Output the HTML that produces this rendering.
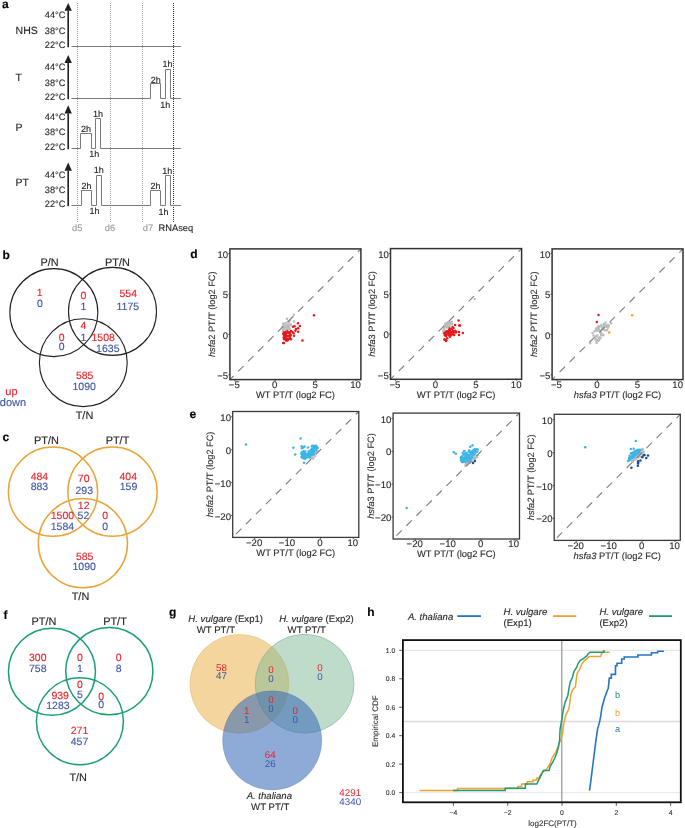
<!DOCTYPE html>
<html><head><meta charset="utf-8"><style>
html,body{margin:0;padding:0;background:#fff;}
body{width:685px;height:828px;overflow:hidden;}
svg{display:block;font-family:"Liberation Sans",sans-serif;will-change:transform;text-rendering:geometricPrecision;}
</style></head><body>
<svg width="685" height="828" viewBox="0 0 685 828">
<text x="2" y="7.6" font-size="12" fill="#000" stroke="#000" stroke-width="0.12" text-anchor="start" font-weight="bold">a</text>
<line x1="77.5" y1="3" x2="77.5" y2="222" stroke="#a3a3a3" stroke-width="1" stroke-dasharray="1 1"/>
<line x1="110.5" y1="3" x2="110.5" y2="222" stroke="#a3a3a3" stroke-width="1" stroke-dasharray="1 1"/>
<line x1="142.5" y1="3" x2="142.5" y2="222" stroke="#a3a3a3" stroke-width="1" stroke-dasharray="1 1"/>
<line x1="173.5" y1="3" x2="173.5" y2="222" stroke="#333" stroke-width="1" stroke-dasharray="1 1"/>
<text x="15.6" y="33.7" font-size="10.5" fill="#231f20" stroke="#231f20" stroke-width="0.12" text-anchor="start">NHS</text>
<text x="65.4" y="18.2" font-size="9.2" fill="#231f20" stroke="#231f20" stroke-width="0.12" text-anchor="end">44°C</text>
<text x="65.4" y="33.7" font-size="9.2" fill="#231f20" stroke="#231f20" stroke-width="0.12" text-anchor="end">38°C</text>
<text x="65.4" y="47.5" font-size="9.2" fill="#231f20" stroke="#231f20" stroke-width="0.12" text-anchor="end">22°C</text>
<line x1="68.2" y1="10.4" x2="68.2" y2="47.3" stroke="#231f20" stroke-width="1.6"/>
<polygon points="68.2,2.9 64.5,10.700000000000001 71.9,10.700000000000001" fill="#231f20"/>
<text x="15.6" y="80.5" font-size="10.5" fill="#231f20" stroke="#231f20" stroke-width="0.12" text-anchor="start">T</text>
<text x="65.4" y="69.9" font-size="9.2" fill="#231f20" stroke="#231f20" stroke-width="0.12" text-anchor="end">44°C</text>
<text x="65.4" y="85.8" font-size="9.2" fill="#231f20" stroke="#231f20" stroke-width="0.12" text-anchor="end">38°C</text>
<text x="65.4" y="99.7" font-size="9.2" fill="#231f20" stroke="#231f20" stroke-width="0.12" text-anchor="end">22°C</text>
<line x1="68.2" y1="62.8" x2="68.2" y2="99.3" stroke="#231f20" stroke-width="1.6"/>
<polygon points="68.2,55.1 64.5,63.099999999999994 71.9,63.099999999999994" fill="#231f20"/>
<text x="15.6" y="131.2" font-size="10.5" fill="#231f20" stroke="#231f20" stroke-width="0.12" text-anchor="start">P</text>
<text x="65.4" y="120.4" font-size="9.2" fill="#231f20" stroke="#231f20" stroke-width="0.12" text-anchor="end">44°C</text>
<text x="65.4" y="135.3" font-size="9.2" fill="#231f20" stroke="#231f20" stroke-width="0.12" text-anchor="end">38°C</text>
<text x="65.4" y="149.5" font-size="9.2" fill="#231f20" stroke="#231f20" stroke-width="0.12" text-anchor="end">22°C</text>
<line x1="68.2" y1="113.3" x2="68.2" y2="149.3" stroke="#231f20" stroke-width="1.6"/>
<polygon points="68.2,105.3 64.5,113.6 71.9,113.6" fill="#231f20"/>
<text x="15.6" y="186.0" font-size="10.5" fill="#231f20" stroke="#231f20" stroke-width="0.12" text-anchor="start">PT</text>
<text x="65.4" y="177.5" font-size="9.2" fill="#231f20" stroke="#231f20" stroke-width="0.12" text-anchor="end">44°C</text>
<text x="65.4" y="192.6" font-size="9.2" fill="#231f20" stroke="#231f20" stroke-width="0.12" text-anchor="end">38°C</text>
<text x="65.4" y="207.3" font-size="9.2" fill="#231f20" stroke="#231f20" stroke-width="0.12" text-anchor="end">22°C</text>
<line x1="68.2" y1="170.5" x2="68.2" y2="206.3" stroke="#231f20" stroke-width="1.6"/>
<polygon points="68.2,162.4 64.5,170.8 71.9,170.8" fill="#231f20"/>
<line x1="71.5" y1="46.5" x2="181" y2="46.5" stroke="#7a7a7a" stroke-width="1"/>
<polyline points="71.5,98.5 150.5,98.5 150.5,83.5 160.5,83.5 160.5,98.5 165.5,98.5 165.5,69.5 170.5,69.5 170.5,98.5 181,98.5" fill="none" stroke="#7a7a7a" stroke-width="1"/>
<polyline points="71.5,148.5 80.5,148.5 80.5,133.5 91.5,133.5 91.5,148.5 95.5,148.5 95.5,118.5 100.5,118.5 100.5,148.5 181,148.5" fill="none" stroke="#7a7a7a" stroke-width="1"/>
<polyline points="71.5,205.5 81.5,205.5 81.5,190.5 91.5,190.5 91.5,205.5 96.5,205.5 96.5,175.5 101.5,175.5 101.5,205.5 150.5,205.5 150.5,190.5 160.5,190.5 160.5,205.5 165.5,205.5 165.5,175.5 170.5,175.5 170.5,205.5 181,205.5" fill="none" stroke="#7a7a7a" stroke-width="1"/>
<text x="155.7" y="82.7" font-size="9.0" fill="#231f20" stroke="#231f20" stroke-width="0.12" text-anchor="middle">2h</text>
<text x="167.5" y="67.0" font-size="9.0" fill="#231f20" stroke="#231f20" stroke-width="0.12" text-anchor="middle">1h</text>
<text x="165.2" y="107.7" font-size="9.0" fill="#231f20" stroke="#231f20" stroke-width="0.12" text-anchor="middle">1h</text>
<text x="86.0" y="131.5" font-size="9.0" fill="#231f20" stroke="#231f20" stroke-width="0.12" text-anchor="middle">2h</text>
<text x="98.0" y="116.5" font-size="9.0" fill="#231f20" stroke="#231f20" stroke-width="0.12" text-anchor="middle">1h</text>
<text x="94.3" y="157.2" font-size="9.0" fill="#231f20" stroke="#231f20" stroke-width="0.12" text-anchor="middle">1h</text>
<text x="86.4" y="188.8" font-size="9.0" fill="#231f20" stroke="#231f20" stroke-width="0.12" text-anchor="middle">2h</text>
<text x="98.8" y="173.3" font-size="9.0" fill="#231f20" stroke="#231f20" stroke-width="0.12" text-anchor="middle">1h</text>
<text x="94.5" y="213.8" font-size="9.0" fill="#231f20" stroke="#231f20" stroke-width="0.12" text-anchor="middle">1h</text>
<text x="155.5" y="188.7" font-size="9.0" fill="#231f20" stroke="#231f20" stroke-width="0.12" text-anchor="middle">2h</text>
<text x="167.3" y="173.8" font-size="9.0" fill="#231f20" stroke="#231f20" stroke-width="0.12" text-anchor="middle">1h</text>
<text x="163.5" y="214.7" font-size="9.0" fill="#231f20" stroke="#231f20" stroke-width="0.12" text-anchor="middle">1h</text>
<text x="77.2" y="230.8" font-size="9.3" fill="#9a9a9a" stroke="#9a9a9a" stroke-width="0.12" text-anchor="middle">d5</text>
<text x="110" y="230.8" font-size="9.3" fill="#9a9a9a" stroke="#9a9a9a" stroke-width="0.12" text-anchor="middle">d6</text>
<text x="147.9" y="230.8" font-size="9.3" fill="#9a9a9a" stroke="#9a9a9a" stroke-width="0.12" text-anchor="middle">d7</text>
<text x="175.9" y="230.8" font-size="9.3" fill="#231f20" stroke="#231f20" stroke-width="0.12" text-anchor="middle">RNAseq</text>
<circle cx="53.85" cy="312.6" r="44" fill="none" stroke="#231f20" stroke-width="1.1"/>
<circle cx="112.5" cy="311.4" r="44" fill="none" stroke="#231f20" stroke-width="1.1"/>
<circle cx="83.3" cy="362.7" r="43.9" fill="none" stroke="#231f20" stroke-width="1.1"/>
<text x="2.4" y="259.2" font-size="12" fill="#000" stroke="#000" stroke-width="0.12" text-anchor="start" font-weight="bold">b</text>
<text x="49.5" y="266.2" font-size="10.9" fill="#231f20" stroke="#231f20" stroke-width="0.12" text-anchor="middle">P/N</text>
<text x="117.5" y="266.2" font-size="10.9" fill="#231f20" stroke="#231f20" stroke-width="0.12" text-anchor="middle">PT/N</text>
<text x="84.5" y="418.6" font-size="10.9" fill="#231f20" stroke="#231f20" stroke-width="0.12" text-anchor="middle">T/N</text>
<text x="39.6" y="296.3" font-size="10.5" fill="#e8232b" stroke="#e8232b" stroke-width="0.12" text-anchor="middle">1</text>
<text x="40" y="307.4" font-size="10.5" fill="#3c55a5" stroke="#3c55a5" stroke-width="0.12" text-anchor="middle">0</text>
<text x="83.5" y="298.8" font-size="10.5" fill="#e8232b" stroke="#e8232b" stroke-width="0.12" text-anchor="middle">0</text>
<text x="83.5" y="309.5" font-size="10.5" fill="#3c55a5" stroke="#3c55a5" stroke-width="0.12" text-anchor="middle">1</text>
<text x="128.3" y="296.6" font-size="10.5" fill="#e8232b" stroke="#e8232b" stroke-width="0.12" text-anchor="middle">554</text>
<text x="127.8" y="309.7" font-size="10.5" fill="#3c55a5" stroke="#3c55a5" stroke-width="0.12" text-anchor="middle">1175</text>
<text x="83.5" y="329.2" font-size="10.5" fill="#e8232b" stroke="#e8232b" stroke-width="0.12" text-anchor="middle">4</text>
<text x="83.5" y="340.5" font-size="10.5" fill="#3c55a5" stroke="#3c55a5" stroke-width="0.12" text-anchor="middle">1</text>
<text x="61.7" y="340.5" font-size="10.5" fill="#e8232b" stroke="#e8232b" stroke-width="0.12" text-anchor="middle">0</text>
<text x="61.7" y="350.2" font-size="10.5" fill="#3c55a5" stroke="#3c55a5" stroke-width="0.12" text-anchor="middle">0</text>
<text x="103.2" y="341" font-size="10.5" fill="#e8232b" stroke="#e8232b" stroke-width="0.12" text-anchor="middle">1508</text>
<text x="107.8" y="351.5" font-size="10.5" fill="#3c55a5" stroke="#3c55a5" stroke-width="0.12" text-anchor="middle">1635</text>
<text x="84.7" y="379.1" font-size="10.5" fill="#e8232b" stroke="#e8232b" stroke-width="0.12" text-anchor="middle">585</text>
<text x="84.2" y="389.6" font-size="10.5" fill="#3c55a5" stroke="#3c55a5" stroke-width="0.12" text-anchor="middle">1090</text>
<text x="11.4" y="394.6" font-size="11" fill="#e8232b" stroke="#e8232b" stroke-width="0.12" text-anchor="middle">up</text>
<text x="12.9" y="405.8" font-size="11" fill="#3c55a5" stroke="#3c55a5" stroke-width="0.12" text-anchor="middle">down</text>
<circle cx="53" cy="491.7" r="44.6" fill="none" stroke="#e9a53a" stroke-width="1.5"/>
<circle cx="112.5" cy="491.7" r="44.6" fill="none" stroke="#e9a53a" stroke-width="1.5"/>
<circle cx="82.9" cy="543.2" r="44.6" fill="none" stroke="#e9a53a" stroke-width="1.5"/>
<text x="2.6" y="441" font-size="12" fill="#000" stroke="#000" stroke-width="0.12" text-anchor="start" font-weight="bold">c</text>
<text x="46.5" y="444" font-size="10.9" fill="#231f20" stroke="#231f20" stroke-width="0.12" text-anchor="middle">PT/N</text>
<text x="117.5" y="444" font-size="10.9" fill="#231f20" stroke="#231f20" stroke-width="0.12" text-anchor="middle">PT/T</text>
<text x="80.5" y="599.5" font-size="10.9" fill="#231f20" stroke="#231f20" stroke-width="0.12" text-anchor="middle">T/N</text>
<text x="39.4" y="479.8" font-size="10.5" fill="#e8232b" stroke="#e8232b" stroke-width="0.12" text-anchor="middle">484</text>
<text x="39.4" y="490.3" font-size="10.5" fill="#3c55a5" stroke="#3c55a5" stroke-width="0.12" text-anchor="middle">883</text>
<text x="83.7" y="482" font-size="10.5" fill="#e8232b" stroke="#e8232b" stroke-width="0.12" text-anchor="middle">70</text>
<text x="84.3" y="493.6" font-size="10.5" fill="#3c55a5" stroke="#3c55a5" stroke-width="0.12" text-anchor="middle">293</text>
<text x="128.3" y="479.9" font-size="10.5" fill="#e8232b" stroke="#e8232b" stroke-width="0.12" text-anchor="middle">404</text>
<text x="128.5" y="490.4" font-size="10.5" fill="#3c55a5" stroke="#3c55a5" stroke-width="0.12" text-anchor="middle">159</text>
<text x="83.7" y="508.8" font-size="10.5" fill="#e8232b" stroke="#e8232b" stroke-width="0.12" text-anchor="middle">12</text>
<text x="62.4" y="518.8" font-size="10.5" fill="#e8232b" stroke="#e8232b" stroke-width="0.12" text-anchor="middle">1500</text>
<text x="83.4" y="518.8" font-size="10.5" fill="#3c55a5" stroke="#3c55a5" stroke-width="0.12" text-anchor="middle">52</text>
<text x="105.1" y="518.8" font-size="10.5" fill="#e8232b" stroke="#e8232b" stroke-width="0.12" text-anchor="middle">0</text>
<text x="105.1" y="529.8" font-size="10.5" fill="#3c55a5" stroke="#3c55a5" stroke-width="0.12" text-anchor="middle">0</text>
<text x="62.4" y="529.8" font-size="10.5" fill="#3c55a5" stroke="#3c55a5" stroke-width="0.12" text-anchor="middle">1584</text>
<text x="84.7" y="559.5" font-size="10.5" fill="#e8232b" stroke="#e8232b" stroke-width="0.12" text-anchor="middle">585</text>
<text x="84.2" y="569.7" font-size="10.5" fill="#3c55a5" stroke="#3c55a5" stroke-width="0.12" text-anchor="middle">1090</text>
<circle cx="51.95" cy="671.8" r="43.5" fill="none" stroke="#1b9e76" stroke-width="1.5"/>
<circle cx="109.3" cy="671.2" r="43.6" fill="none" stroke="#1b9e76" stroke-width="1.5"/>
<circle cx="79.9" cy="721.2" r="43.5" fill="none" stroke="#1b9e76" stroke-width="1.5"/>
<text x="3.6" y="619" font-size="12" fill="#000" stroke="#000" stroke-width="0.12" text-anchor="start" font-weight="bold">f</text>
<text x="44" y="624.8" font-size="10.9" fill="#231f20" stroke="#231f20" stroke-width="0.12" text-anchor="middle">PT/N</text>
<text x="115" y="624.8" font-size="10.9" fill="#231f20" stroke="#231f20" stroke-width="0.12" text-anchor="middle">PT/T</text>
<text x="78.2" y="780.9" font-size="10.9" fill="#231f20" stroke="#231f20" stroke-width="0.12" text-anchor="middle">T/N</text>
<text x="37.8" y="660.5" font-size="10.5" fill="#e8232b" stroke="#e8232b" stroke-width="0.12" text-anchor="middle">300</text>
<text x="37.8" y="671.7" font-size="10.5" fill="#3c55a5" stroke="#3c55a5" stroke-width="0.12" text-anchor="middle">758</text>
<text x="80" y="660.5" font-size="10.5" fill="#e8232b" stroke="#e8232b" stroke-width="0.12" text-anchor="middle">0</text>
<text x="80" y="671.7" font-size="10.5" fill="#3c55a5" stroke="#3c55a5" stroke-width="0.12" text-anchor="middle">1</text>
<text x="118.6" y="660.5" font-size="10.5" fill="#e8232b" stroke="#e8232b" stroke-width="0.12" text-anchor="middle">0</text>
<text x="118.6" y="671.7" font-size="10.5" fill="#3c55a5" stroke="#3c55a5" stroke-width="0.12" text-anchor="middle">8</text>
<text x="80" y="687.5" font-size="10.5" fill="#e8232b" stroke="#e8232b" stroke-width="0.12" text-anchor="middle">0</text>
<text x="80" y="698.1" font-size="10.5" fill="#3c55a5" stroke="#3c55a5" stroke-width="0.12" text-anchor="middle">5</text>
<text x="60.2" y="699.1" font-size="10.5" fill="#e8232b" stroke="#e8232b" stroke-width="0.12" text-anchor="middle">939</text>
<text x="57.9" y="709.1" font-size="10.5" fill="#3c55a5" stroke="#3c55a5" stroke-width="0.12" text-anchor="middle">1283</text>
<text x="101.2" y="699.6" font-size="10.5" fill="#e8232b" stroke="#e8232b" stroke-width="0.12" text-anchor="middle">0</text>
<text x="101.2" y="708.3" font-size="10.5" fill="#3c55a5" stroke="#3c55a5" stroke-width="0.12" text-anchor="middle">0</text>
<text x="79.5" y="734.1" font-size="10.5" fill="#e8232b" stroke="#e8232b" stroke-width="0.12" text-anchor="middle">271</text>
<text x="79.5" y="744.6" font-size="10.5" fill="#3c55a5" stroke="#3c55a5" stroke-width="0.12" text-anchor="middle">457</text>
<text x="168.9" y="615.6" font-size="12" fill="#000" stroke="#000" stroke-width="0.12" text-anchor="start" font-weight="bold">g</text>
<circle cx="239.4" cy="683.8" r="49.4" fill="#ecab3d" fill-opacity="0.5" stroke="#e6b46a" stroke-opacity="0.6" stroke-width="0.9"/>
<circle cx="304.6" cy="683.7" r="49.4" fill="#7fb997" fill-opacity="0.5" stroke="#6fb08e" stroke-opacity="0.6" stroke-width="0.9"/>
<circle cx="272.2" cy="740.4" r="49.6" fill="#396ab7" fill-opacity="0.57" stroke="#396ab7" stroke-opacity="0.25" stroke-width="0.9"/>
<text x="225.7" y="621.6" font-size="9.6" fill="#231f20" stroke="#231f20" stroke-width="0.12" text-anchor="middle"><tspan font-style="italic">H. vulgare</tspan> (Exp1)</text>
<text x="316.5" y="621.6" font-size="9.6" fill="#231f20" stroke="#231f20" stroke-width="0.12" text-anchor="middle"><tspan font-style="italic">H. vulgare</tspan> (Exp2)</text>
<text x="215.9" y="633.4" font-size="9.6" fill="#231f20" stroke="#231f20" stroke-width="0.12" text-anchor="middle">WT PT/T</text>
<text x="306.7" y="633.4" font-size="9.6" fill="#231f20" stroke="#231f20" stroke-width="0.12" text-anchor="middle">WT PT/T</text>
<text x="269.3" y="799.2" font-size="9.6" fill="#231f20" stroke="#231f20" stroke-width="0.12" text-anchor="middle" font-style="italic">A. thaliana</text>
<text x="270.2" y="809.6" font-size="9.6" fill="#231f20" stroke="#231f20" stroke-width="0.12" text-anchor="middle">WT PT/T</text>
<text x="221.4" y="670.5" font-size="9.8" fill="#e8232b" text-anchor="middle" class="ns">58</text>
<text x="221.4" y="679.2" font-size="9.8" fill="#3c55a5" text-anchor="middle" class="ns">47</text>
<text x="271" y="673" font-size="9.8" fill="#e8232b" text-anchor="middle" class="ns">0</text>
<text x="271" y="682.1" font-size="9.8" fill="#3c55a5" text-anchor="middle" class="ns">0</text>
<text x="320" y="670.5" font-size="9.8" fill="#e8232b" text-anchor="middle" class="ns">0</text>
<text x="320" y="679.8" font-size="9.8" fill="#3c55a5" text-anchor="middle" class="ns">0</text>
<text x="271" y="703.1" font-size="9.8" fill="#e8232b" text-anchor="middle" class="ns">0</text>
<text x="271" y="711.8" font-size="9.8" fill="#3c55a5" text-anchor="middle" class="ns">0</text>
<text x="246.7" y="714" font-size="9.8" fill="#e8232b" text-anchor="middle" class="ns">1</text>
<text x="246.7" y="723" font-size="9.8" fill="#3c55a5" text-anchor="middle" class="ns">1</text>
<text x="295.3" y="714" font-size="9.8" fill="#e8232b" text-anchor="middle" class="ns">0</text>
<text x="295.3" y="723" font-size="9.8" fill="#3c55a5" text-anchor="middle" class="ns">0</text>
<text x="270.3" y="758" font-size="9.8" fill="#e8232b" text-anchor="middle" class="ns">64</text>
<text x="270.3" y="767.3" font-size="9.8" fill="#3c55a5" text-anchor="middle" class="ns">26</text>
<text x="350.2" y="795.9" font-size="9.8" fill="#e8232b" text-anchor="middle" class="ns">4291</text>
<text x="350.2" y="805.3" font-size="9.8" fill="#3c55a5" text-anchor="middle" class="ns">4340</text>
<text x="190.2" y="257.5" font-size="12" font-weight="bold" fill="#000" stroke="#000" stroke-width="0.12">d</text>
<text x="234.30" y="388.00" font-size="9.6" fill="#2b2b2b" stroke="#2b2b2b" stroke-width="0.12" text-anchor="middle">−5</text>
<line x1="234.8" y1="379.6" x2="234.8" y2="381.20000000000005" stroke="#333" stroke-width="0.8"/>
<text x="274.70" y="388.00" font-size="9.6" fill="#2b2b2b" stroke="#2b2b2b" stroke-width="0.12" text-anchor="middle">0</text>
<line x1="275.2" y1="379.6" x2="275.2" y2="381.20000000000005" stroke="#333" stroke-width="0.8"/>
<text x="315.10" y="388.00" font-size="9.6" fill="#2b2b2b" stroke="#2b2b2b" stroke-width="0.12" text-anchor="middle">5</text>
<line x1="315.6" y1="379.6" x2="315.6" y2="381.20000000000005" stroke="#333" stroke-width="0.8"/>
<text x="355.50" y="388.00" font-size="9.6" fill="#2b2b2b" stroke="#2b2b2b" stroke-width="0.12" text-anchor="middle">10</text>
<line x1="356.0" y1="379.6" x2="356.0" y2="381.20000000000005" stroke="#333" stroke-width="0.8"/>
<text x="228.20" y="257.80" font-size="9.6" fill="#2b2b2b" stroke="#2b2b2b" stroke-width="0.12" text-anchor="end">10</text>
<line x1="228.3" y1="253.7" x2="229.9" y2="253.7" stroke="#333" stroke-width="0.8"/>
<text x="228.20" y="298.20" font-size="9.6" fill="#2b2b2b" stroke="#2b2b2b" stroke-width="0.12" text-anchor="end">5</text>
<line x1="228.3" y1="294.1" x2="229.9" y2="294.1" stroke="#333" stroke-width="0.8"/>
<text x="228.20" y="338.50" font-size="9.6" fill="#2b2b2b" stroke="#2b2b2b" stroke-width="0.12" text-anchor="end">0</text>
<line x1="228.3" y1="334.4" x2="229.9" y2="334.4" stroke="#333" stroke-width="0.8"/>
<text x="228.20" y="378.90" font-size="9.6" fill="#2b2b2b" stroke="#2b2b2b" stroke-width="0.12" text-anchor="end">−5</text>
<line x1="228.3" y1="374.8" x2="229.9" y2="374.8" stroke="#333" stroke-width="0.8"/>
<text x="295.40" y="398.00" font-size="9.4" fill="#2b2b2b" stroke="#2b2b2b" stroke-width="0.12" text-anchor="middle">WT PT/T (log2 FC)</text>
<text transform="translate(215.30,314.25) rotate(-90)" font-size="9.2" fill="#2b2b2b" stroke="#2b2b2b" stroke-width="0.12" text-anchor="middle"><tspan font-style="italic">hsfa</tspan>2 PT/T (log2 FC)</text>
<text x="394.90" y="387.70" font-size="9.6" fill="#2b2b2b" stroke="#2b2b2b" stroke-width="0.12" text-anchor="middle">−5</text>
<line x1="395.4" y1="379.3" x2="395.4" y2="380.90000000000003" stroke="#333" stroke-width="0.8"/>
<text x="435.30" y="387.70" font-size="9.6" fill="#2b2b2b" stroke="#2b2b2b" stroke-width="0.12" text-anchor="middle">0</text>
<line x1="435.8" y1="379.3" x2="435.8" y2="380.90000000000003" stroke="#333" stroke-width="0.8"/>
<text x="475.80" y="387.70" font-size="9.6" fill="#2b2b2b" stroke="#2b2b2b" stroke-width="0.12" text-anchor="middle">5</text>
<line x1="476.3" y1="379.3" x2="476.3" y2="380.90000000000003" stroke="#333" stroke-width="0.8"/>
<text x="516.20" y="387.70" font-size="9.6" fill="#2b2b2b" stroke="#2b2b2b" stroke-width="0.12" text-anchor="middle">10</text>
<line x1="516.7" y1="379.3" x2="516.7" y2="380.90000000000003" stroke="#333" stroke-width="0.8"/>
<text x="388.80" y="257.50" font-size="9.6" fill="#2b2b2b" stroke="#2b2b2b" stroke-width="0.12" text-anchor="end">10</text>
<line x1="388.9" y1="253.4" x2="390.5" y2="253.4" stroke="#333" stroke-width="0.8"/>
<text x="388.80" y="297.90" font-size="9.6" fill="#2b2b2b" stroke="#2b2b2b" stroke-width="0.12" text-anchor="end">5</text>
<line x1="388.9" y1="293.8" x2="390.5" y2="293.8" stroke="#333" stroke-width="0.8"/>
<text x="388.80" y="338.20" font-size="9.6" fill="#2b2b2b" stroke="#2b2b2b" stroke-width="0.12" text-anchor="end">0</text>
<line x1="388.9" y1="334.1" x2="390.5" y2="334.1" stroke="#333" stroke-width="0.8"/>
<text x="388.80" y="378.60" font-size="9.6" fill="#2b2b2b" stroke="#2b2b2b" stroke-width="0.12" text-anchor="end">−5</text>
<line x1="388.9" y1="374.5" x2="390.5" y2="374.5" stroke="#333" stroke-width="0.8"/>
<text x="456.05" y="397.70" font-size="9.4" fill="#2b2b2b" stroke="#2b2b2b" stroke-width="0.12" text-anchor="middle">WT PT/T (log2 FC)</text>
<text transform="translate(375.40,313.95) rotate(-90)" font-size="9.2" fill="#2b2b2b" stroke="#2b2b2b" stroke-width="0.12" text-anchor="middle"><tspan font-style="italic">hsfa</tspan>3 PT/T (log2 FC)</text>
<text x="556.50" y="388.00" font-size="9.6" fill="#2b2b2b" stroke="#2b2b2b" stroke-width="0.12" text-anchor="middle">−5</text>
<line x1="557.0" y1="379.6" x2="557.0" y2="381.20000000000005" stroke="#333" stroke-width="0.8"/>
<text x="596.90" y="388.00" font-size="9.6" fill="#2b2b2b" stroke="#2b2b2b" stroke-width="0.12" text-anchor="middle">0</text>
<line x1="597.4" y1="379.6" x2="597.4" y2="381.20000000000005" stroke="#333" stroke-width="0.8"/>
<text x="637.30" y="388.00" font-size="9.6" fill="#2b2b2b" stroke="#2b2b2b" stroke-width="0.12" text-anchor="middle">5</text>
<line x1="637.8" y1="379.6" x2="637.8" y2="381.20000000000005" stroke="#333" stroke-width="0.8"/>
<text x="677.70" y="388.00" font-size="9.6" fill="#2b2b2b" stroke="#2b2b2b" stroke-width="0.12" text-anchor="middle">10</text>
<line x1="678.2" y1="379.6" x2="678.2" y2="381.20000000000005" stroke="#333" stroke-width="0.8"/>
<text x="550.40" y="257.80" font-size="9.6" fill="#2b2b2b" stroke="#2b2b2b" stroke-width="0.12" text-anchor="end">10</text>
<line x1="550.5" y1="253.7" x2="552.1" y2="253.7" stroke="#333" stroke-width="0.8"/>
<text x="550.40" y="298.20" font-size="9.6" fill="#2b2b2b" stroke="#2b2b2b" stroke-width="0.12" text-anchor="end">5</text>
<line x1="550.5" y1="294.1" x2="552.1" y2="294.1" stroke="#333" stroke-width="0.8"/>
<text x="550.40" y="338.50" font-size="9.6" fill="#2b2b2b" stroke="#2b2b2b" stroke-width="0.12" text-anchor="end">0</text>
<line x1="550.5" y1="334.4" x2="552.1" y2="334.4" stroke="#333" stroke-width="0.8"/>
<text x="550.40" y="378.90" font-size="9.6" fill="#2b2b2b" stroke="#2b2b2b" stroke-width="0.12" text-anchor="end">−5</text>
<line x1="550.5" y1="374.8" x2="552.1" y2="374.8" stroke="#333" stroke-width="0.8"/>
<text x="617.55" y="398.00" font-size="9.4" fill="#2b2b2b" stroke="#2b2b2b" stroke-width="0.12" text-anchor="middle"><tspan font-style="italic">hsfa3</tspan> PT/T (log2 FC)</text>
<text transform="translate(537.10,314.25) rotate(-90)" font-size="9.2" fill="#2b2b2b" stroke="#2b2b2b" stroke-width="0.12" text-anchor="middle"><tspan font-style="italic">hsfa2</tspan> PT/T (log2 FC)</text>
<circle cx="285.58" cy="322.96" r="1.25" fill="#bdbdbd"/>
<circle cx="288.68" cy="321.94" r="1.25" fill="#bdbdbd"/>
<circle cx="287.59" cy="325.75" r="1.25" fill="#bdbdbd"/>
<circle cx="283.05" cy="327.60" r="1.25" fill="#bdbdbd"/>
<circle cx="282.86" cy="326.64" r="1.25" fill="#bdbdbd"/>
<circle cx="286.53" cy="331.75" r="1.25" fill="#bdbdbd"/>
<circle cx="283.68" cy="323.90" r="1.25" fill="#bdbdbd"/>
<circle cx="287.98" cy="326.16" r="1.25" fill="#bdbdbd"/>
<circle cx="290.66" cy="324.76" r="1.25" fill="#bdbdbd"/>
<circle cx="285.43" cy="331.61" r="1.25" fill="#bdbdbd"/>
<circle cx="284.22" cy="328.56" r="1.25" fill="#bdbdbd"/>
<circle cx="288.57" cy="325.84" r="1.25" fill="#bdbdbd"/>
<circle cx="287.70" cy="321.82" r="1.25" fill="#bdbdbd"/>
<circle cx="283.07" cy="323.68" r="1.25" fill="#bdbdbd"/>
<circle cx="288.96" cy="326.56" r="1.25" fill="#bdbdbd"/>
<circle cx="285.48" cy="328.61" r="1.25" fill="#bdbdbd"/>
<circle cx="286.81" cy="324.90" r="1.25" fill="#bdbdbd"/>
<circle cx="284.82" cy="328.47" r="1.25" fill="#bdbdbd"/>
<circle cx="289.43" cy="324.74" r="1.25" fill="#bdbdbd"/>
<circle cx="286.47" cy="330.84" r="1.25" fill="#bdbdbd"/>
<circle cx="283.94" cy="327.36" r="1.25" fill="#bdbdbd"/>
<circle cx="282.87" cy="329.69" r="1.25" fill="#bdbdbd"/>
<circle cx="289.76" cy="328.45" r="1.25" fill="#bdbdbd"/>
<circle cx="290.82" cy="325.08" r="1.25" fill="#bdbdbd"/>
<circle cx="289.11" cy="328.73" r="1.25" fill="#bdbdbd"/>
<circle cx="288.01" cy="326.93" r="1.25" fill="#bdbdbd"/>
<circle cx="287.00" cy="329.63" r="1.25" fill="#bdbdbd"/>
<circle cx="283.08" cy="330.12" r="1.25" fill="#bdbdbd"/>
<circle cx="290.31" cy="324.70" r="1.25" fill="#bdbdbd"/>
<circle cx="286.17" cy="329.69" r="1.25" fill="#bdbdbd"/>
<circle cx="282.71" cy="327.00" r="1.25" fill="#bdbdbd"/>
<circle cx="283.06" cy="330.99" r="1.25" fill="#bdbdbd"/>
<circle cx="283.73" cy="324.22" r="1.25" fill="#bdbdbd"/>
<circle cx="286.21" cy="332.33" r="1.25" fill="#bdbdbd"/>
<circle cx="283.27" cy="326.84" r="1.25" fill="#bdbdbd"/>
<circle cx="285.15" cy="326.40" r="1.25" fill="#bdbdbd"/>
<circle cx="285.91" cy="332.49" r="1.25" fill="#bdbdbd"/>
<circle cx="284.17" cy="324.02" r="1.25" fill="#bdbdbd"/>
<circle cx="284.72" cy="327.30" r="1.25" fill="#bdbdbd"/>
<circle cx="288.10" cy="324.42" r="1.25" fill="#bdbdbd"/>
<circle cx="286.01" cy="328.36" r="1.25" fill="#bdbdbd"/>
<circle cx="287.40" cy="329.03" r="1.25" fill="#bdbdbd"/>
<circle cx="288.92" cy="321.70" r="1.25" fill="#bdbdbd"/>
<circle cx="286.23" cy="326.19" r="1.25" fill="#bdbdbd"/>
<circle cx="283.48" cy="329.25" r="1.25" fill="#bdbdbd"/>
<circle cx="294.00" cy="314.80" r="1.25" fill="#bdbdbd"/>
<circle cx="287.00" cy="318.80" r="1.25" fill="#bdbdbd"/>
<circle cx="294.00" cy="321.40" r="1.25" fill="#bdbdbd"/>
<circle cx="284.00" cy="324.00" r="1.25" fill="#bdbdbd"/>
<circle cx="290.00" cy="320.50" r="1.25" fill="#bdbdbd"/>
<circle cx="284.67" cy="332.62" r="1.25" fill="#e41a1c"/>
<circle cx="283.81" cy="334.64" r="1.25" fill="#e41a1c"/>
<circle cx="287.91" cy="332.49" r="1.25" fill="#e41a1c"/>
<circle cx="285.02" cy="334.47" r="1.25" fill="#e41a1c"/>
<circle cx="285.91" cy="332.23" r="1.25" fill="#e41a1c"/>
<circle cx="286.73" cy="335.84" r="1.25" fill="#e41a1c"/>
<circle cx="285.74" cy="333.65" r="1.25" fill="#e41a1c"/>
<circle cx="289.63" cy="332.61" r="1.25" fill="#e41a1c"/>
<circle cx="287.23" cy="332.47" r="1.25" fill="#e41a1c"/>
<circle cx="287.35" cy="331.27" r="1.25" fill="#e41a1c"/>
<circle cx="289.91" cy="337.96" r="1.25" fill="#e41a1c"/>
<circle cx="285.09" cy="334.67" r="1.25" fill="#e41a1c"/>
<circle cx="284.34" cy="338.72" r="1.25" fill="#e41a1c"/>
<circle cx="287.26" cy="338.79" r="1.25" fill="#e41a1c"/>
<circle cx="285.64" cy="333.23" r="1.25" fill="#e41a1c"/>
<circle cx="289.55" cy="338.40" r="1.25" fill="#e41a1c"/>
<circle cx="284.81" cy="336.18" r="1.25" fill="#e41a1c"/>
<circle cx="283.22" cy="333.79" r="1.25" fill="#e41a1c"/>
<circle cx="285.07" cy="337.93" r="1.25" fill="#e41a1c"/>
<circle cx="290.65" cy="335.47" r="1.25" fill="#e41a1c"/>
<circle cx="290.64" cy="334.65" r="1.25" fill="#e41a1c"/>
<circle cx="284.76" cy="333.27" r="1.25" fill="#e41a1c"/>
<circle cx="284.57" cy="333.04" r="1.25" fill="#e41a1c"/>
<circle cx="287.99" cy="340.00" r="1.25" fill="#e41a1c"/>
<circle cx="289.72" cy="335.79" r="1.25" fill="#e41a1c"/>
<circle cx="288.22" cy="339.00" r="1.25" fill="#e41a1c"/>
<circle cx="283.68" cy="337.61" r="1.25" fill="#e41a1c"/>
<circle cx="289.00" cy="335.78" r="1.25" fill="#e41a1c"/>
<circle cx="284.43" cy="338.89" r="1.25" fill="#e41a1c"/>
<circle cx="285.66" cy="339.01" r="1.25" fill="#e41a1c"/>
<circle cx="286.21" cy="340.47" r="1.25" fill="#e41a1c"/>
<circle cx="288.80" cy="332.70" r="1.25" fill="#e41a1c"/>
<circle cx="284.02" cy="332.51" r="1.25" fill="#e41a1c"/>
<circle cx="284.17" cy="339.27" r="1.25" fill="#e41a1c"/>
<circle cx="285.80" cy="336.49" r="1.25" fill="#e41a1c"/>
<circle cx="287.21" cy="340.34" r="1.25" fill="#e41a1c"/>
<circle cx="286.47" cy="339.72" r="1.25" fill="#e41a1c"/>
<circle cx="289.61" cy="333.11" r="1.25" fill="#e41a1c"/>
<circle cx="285.01" cy="333.93" r="1.25" fill="#e41a1c"/>
<circle cx="284.92" cy="336.86" r="1.25" fill="#e41a1c"/>
<circle cx="285.07" cy="335.19" r="1.25" fill="#e41a1c"/>
<circle cx="285.83" cy="335.58" r="1.25" fill="#e41a1c"/>
<circle cx="287.67" cy="340.04" r="1.25" fill="#e41a1c"/>
<circle cx="286.37" cy="340.18" r="1.25" fill="#e41a1c"/>
<circle cx="287.01" cy="336.32" r="1.25" fill="#e41a1c"/>
<circle cx="314.00" cy="315.30" r="1.25" fill="#e41a1c"/>
<circle cx="298.00" cy="323.30" r="1.25" fill="#e41a1c"/>
<circle cx="299.80" cy="326.00" r="1.25" fill="#e41a1c"/>
<circle cx="294.50" cy="326.20" r="1.25" fill="#e41a1c"/>
<circle cx="293.00" cy="326.80" r="1.25" fill="#e41a1c"/>
<circle cx="298.20" cy="328.20" r="1.25" fill="#e41a1c"/>
<circle cx="295.40" cy="330.80" r="1.25" fill="#e41a1c"/>
<circle cx="298.20" cy="331.70" r="1.25" fill="#e41a1c"/>
<circle cx="291.00" cy="331.00" r="1.25" fill="#e41a1c"/>
<circle cx="293.60" cy="333.20" r="1.25" fill="#e41a1c"/>
<circle cx="294.00" cy="335.70" r="1.25" fill="#e41a1c"/>
<circle cx="291.00" cy="339.30" r="1.25" fill="#e41a1c"/>
<circle cx="302.40" cy="340.50" r="1.25" fill="#e41a1c"/>
<circle cx="284.00" cy="343.10" r="1.25" fill="#e41a1c"/>
<circle cx="283.10" cy="343.10" r="1.25" fill="#e41a1c"/>
<circle cx="292.50" cy="332.00" r="1.25" fill="#e41a1c"/>
<circle cx="296.00" cy="329.00" r="1.25" fill="#e41a1c"/>
<circle cx="289.50" cy="336.50" r="1.25" fill="#e41a1c"/>
<circle cx="447.29" cy="322.86" r="1.25" fill="#bdbdbd"/>
<circle cx="444.80" cy="326.61" r="1.25" fill="#bdbdbd"/>
<circle cx="446.23" cy="327.19" r="1.25" fill="#bdbdbd"/>
<circle cx="444.19" cy="327.73" r="1.25" fill="#bdbdbd"/>
<circle cx="445.51" cy="324.07" r="1.25" fill="#bdbdbd"/>
<circle cx="448.90" cy="327.02" r="1.25" fill="#bdbdbd"/>
<circle cx="447.41" cy="327.38" r="1.25" fill="#bdbdbd"/>
<circle cx="451.96" cy="323.85" r="1.25" fill="#bdbdbd"/>
<circle cx="451.01" cy="322.27" r="1.25" fill="#bdbdbd"/>
<circle cx="444.33" cy="326.20" r="1.25" fill="#bdbdbd"/>
<circle cx="443.88" cy="329.14" r="1.25" fill="#bdbdbd"/>
<circle cx="444.64" cy="329.74" r="1.25" fill="#bdbdbd"/>
<circle cx="449.34" cy="322.34" r="1.25" fill="#bdbdbd"/>
<circle cx="446.90" cy="326.79" r="1.25" fill="#bdbdbd"/>
<circle cx="444.70" cy="326.07" r="1.25" fill="#bdbdbd"/>
<circle cx="448.00" cy="324.87" r="1.25" fill="#bdbdbd"/>
<circle cx="445.02" cy="324.61" r="1.25" fill="#bdbdbd"/>
<circle cx="448.35" cy="326.18" r="1.25" fill="#bdbdbd"/>
<circle cx="449.00" cy="327.11" r="1.25" fill="#bdbdbd"/>
<circle cx="443.80" cy="333.21" r="1.25" fill="#bdbdbd"/>
<circle cx="443.57" cy="330.55" r="1.25" fill="#bdbdbd"/>
<circle cx="450.82" cy="323.84" r="1.25" fill="#bdbdbd"/>
<circle cx="444.59" cy="332.36" r="1.25" fill="#bdbdbd"/>
<circle cx="449.60" cy="325.99" r="1.25" fill="#bdbdbd"/>
<circle cx="443.87" cy="332.60" r="1.25" fill="#bdbdbd"/>
<circle cx="443.98" cy="331.55" r="1.25" fill="#bdbdbd"/>
<circle cx="443.82" cy="331.63" r="1.25" fill="#bdbdbd"/>
<circle cx="447.42" cy="324.88" r="1.25" fill="#bdbdbd"/>
<circle cx="448.10" cy="323.58" r="1.25" fill="#bdbdbd"/>
<circle cx="446.10" cy="324.43" r="1.25" fill="#bdbdbd"/>
<circle cx="450.26" cy="324.24" r="1.25" fill="#bdbdbd"/>
<circle cx="447.85" cy="322.79" r="1.25" fill="#bdbdbd"/>
<circle cx="444.96" cy="326.62" r="1.25" fill="#bdbdbd"/>
<circle cx="451.89" cy="321.87" r="1.25" fill="#bdbdbd"/>
<circle cx="446.86" cy="327.04" r="1.25" fill="#bdbdbd"/>
<circle cx="446.96" cy="324.98" r="1.25" fill="#bdbdbd"/>
<circle cx="443.86" cy="330.06" r="1.25" fill="#bdbdbd"/>
<circle cx="443.99" cy="331.35" r="1.25" fill="#bdbdbd"/>
<circle cx="445.82" cy="323.62" r="1.25" fill="#bdbdbd"/>
<circle cx="445.93" cy="326.43" r="1.25" fill="#bdbdbd"/>
<circle cx="474.70" cy="299.00" r="1.25" fill="#bdbdbd"/>
<circle cx="445.31" cy="334.21" r="1.25" fill="#e41a1c"/>
<circle cx="447.35" cy="332.99" r="1.25" fill="#e41a1c"/>
<circle cx="449.56" cy="334.99" r="1.25" fill="#e41a1c"/>
<circle cx="445.89" cy="335.01" r="1.25" fill="#e41a1c"/>
<circle cx="444.40" cy="333.57" r="1.25" fill="#e41a1c"/>
<circle cx="447.28" cy="331.29" r="1.25" fill="#e41a1c"/>
<circle cx="451.05" cy="335.35" r="1.25" fill="#e41a1c"/>
<circle cx="448.42" cy="332.57" r="1.25" fill="#e41a1c"/>
<circle cx="445.07" cy="335.28" r="1.25" fill="#e41a1c"/>
<circle cx="444.98" cy="333.04" r="1.25" fill="#e41a1c"/>
<circle cx="444.61" cy="339.55" r="1.25" fill="#e41a1c"/>
<circle cx="449.94" cy="335.43" r="1.25" fill="#e41a1c"/>
<circle cx="453.07" cy="331.56" r="1.25" fill="#e41a1c"/>
<circle cx="452.97" cy="330.91" r="1.25" fill="#e41a1c"/>
<circle cx="449.82" cy="333.34" r="1.25" fill="#e41a1c"/>
<circle cx="451.81" cy="329.16" r="1.25" fill="#e41a1c"/>
<circle cx="453.16" cy="332.27" r="1.25" fill="#e41a1c"/>
<circle cx="452.25" cy="332.08" r="1.25" fill="#e41a1c"/>
<circle cx="450.12" cy="334.47" r="1.25" fill="#e41a1c"/>
<circle cx="449.45" cy="329.72" r="1.25" fill="#e41a1c"/>
<circle cx="455.18" cy="330.83" r="1.25" fill="#e41a1c"/>
<circle cx="449.22" cy="331.78" r="1.25" fill="#e41a1c"/>
<circle cx="446.01" cy="341.05" r="1.25" fill="#e41a1c"/>
<circle cx="446.02" cy="336.07" r="1.25" fill="#e41a1c"/>
<circle cx="445.10" cy="335.28" r="1.25" fill="#e41a1c"/>
<circle cx="454.19" cy="335.07" r="1.25" fill="#e41a1c"/>
<circle cx="446.30" cy="340.40" r="1.25" fill="#e41a1c"/>
<circle cx="449.71" cy="328.44" r="1.25" fill="#e41a1c"/>
<circle cx="449.24" cy="332.24" r="1.25" fill="#e41a1c"/>
<circle cx="445.09" cy="332.81" r="1.25" fill="#e41a1c"/>
<circle cx="455.28" cy="332.07" r="1.25" fill="#e41a1c"/>
<circle cx="448.19" cy="333.48" r="1.25" fill="#e41a1c"/>
<circle cx="448.03" cy="333.96" r="1.25" fill="#e41a1c"/>
<circle cx="444.56" cy="339.54" r="1.25" fill="#e41a1c"/>
<circle cx="446.54" cy="331.74" r="1.25" fill="#e41a1c"/>
<circle cx="450.05" cy="330.70" r="1.25" fill="#e41a1c"/>
<circle cx="453.01" cy="334.28" r="1.25" fill="#e41a1c"/>
<circle cx="449.53" cy="332.81" r="1.25" fill="#e41a1c"/>
<circle cx="447.19" cy="338.22" r="1.25" fill="#e41a1c"/>
<circle cx="456.28" cy="331.66" r="1.25" fill="#e41a1c"/>
<circle cx="451.99" cy="332.22" r="1.25" fill="#e41a1c"/>
<circle cx="450.67" cy="333.50" r="1.25" fill="#e41a1c"/>
<circle cx="445.99" cy="340.51" r="1.25" fill="#e41a1c"/>
<circle cx="449.86" cy="331.11" r="1.25" fill="#e41a1c"/>
<circle cx="449.23" cy="330.01" r="1.25" fill="#e41a1c"/>
<circle cx="446.40" cy="331.64" r="1.25" fill="#e41a1c"/>
<circle cx="453.25" cy="333.76" r="1.25" fill="#e41a1c"/>
<circle cx="448.75" cy="335.28" r="1.25" fill="#e41a1c"/>
<circle cx="448.25" cy="332.73" r="1.25" fill="#e41a1c"/>
<circle cx="449.95" cy="336.73" r="1.25" fill="#e41a1c"/>
<circle cx="458.60" cy="320.40" r="1.25" fill="#e41a1c"/>
<circle cx="455.10" cy="324.90" r="1.25" fill="#e41a1c"/>
<circle cx="459.20" cy="325.50" r="1.25" fill="#e41a1c"/>
<circle cx="460.10" cy="325.60" r="1.25" fill="#e41a1c"/>
<circle cx="452.50" cy="326.90" r="1.25" fill="#e41a1c"/>
<circle cx="459.00" cy="332.10" r="1.25" fill="#e41a1c"/>
<circle cx="462.90" cy="333.10" r="1.25" fill="#e41a1c"/>
<circle cx="459.00" cy="335.10" r="1.25" fill="#e41a1c"/>
<circle cx="453.50" cy="328.00" r="1.25" fill="#e41a1c"/>
<circle cx="456.00" cy="332.50" r="1.25" fill="#e41a1c"/>
<circle cx="606.89" cy="325.54" r="1.25" fill="#bdbdbd"/>
<circle cx="599.44" cy="330.16" r="1.25" fill="#bdbdbd"/>
<circle cx="593.52" cy="335.46" r="1.25" fill="#bdbdbd"/>
<circle cx="599.30" cy="339.83" r="1.25" fill="#bdbdbd"/>
<circle cx="608.65" cy="326.19" r="1.25" fill="#bdbdbd"/>
<circle cx="601.41" cy="334.91" r="1.25" fill="#bdbdbd"/>
<circle cx="600.36" cy="332.29" r="1.25" fill="#bdbdbd"/>
<circle cx="596.74" cy="339.69" r="1.25" fill="#bdbdbd"/>
<circle cx="603.39" cy="327.31" r="1.25" fill="#bdbdbd"/>
<circle cx="603.24" cy="335.24" r="1.25" fill="#bdbdbd"/>
<circle cx="601.44" cy="332.92" r="1.25" fill="#bdbdbd"/>
<circle cx="597.85" cy="330.46" r="1.25" fill="#bdbdbd"/>
<circle cx="601.02" cy="334.76" r="1.25" fill="#bdbdbd"/>
<circle cx="599.76" cy="326.37" r="1.25" fill="#bdbdbd"/>
<circle cx="598.44" cy="329.65" r="1.25" fill="#bdbdbd"/>
<circle cx="603.99" cy="325.18" r="1.25" fill="#bdbdbd"/>
<circle cx="601.13" cy="325.32" r="1.25" fill="#bdbdbd"/>
<circle cx="606.20" cy="325.84" r="1.25" fill="#bdbdbd"/>
<circle cx="596.57" cy="336.49" r="1.25" fill="#bdbdbd"/>
<circle cx="597.75" cy="340.33" r="1.25" fill="#bdbdbd"/>
<circle cx="600.98" cy="324.96" r="1.25" fill="#bdbdbd"/>
<circle cx="596.60" cy="329.58" r="1.25" fill="#bdbdbd"/>
<circle cx="596.43" cy="340.78" r="1.25" fill="#bdbdbd"/>
<circle cx="608.00" cy="327.82" r="1.25" fill="#bdbdbd"/>
<circle cx="595.99" cy="340.01" r="1.25" fill="#bdbdbd"/>
<circle cx="603.70" cy="328.81" r="1.25" fill="#bdbdbd"/>
<circle cx="599.02" cy="327.87" r="1.25" fill="#bdbdbd"/>
<circle cx="597.50" cy="328.26" r="1.25" fill="#bdbdbd"/>
<circle cx="608.52" cy="325.37" r="1.25" fill="#bdbdbd"/>
<circle cx="598.74" cy="337.71" r="1.25" fill="#bdbdbd"/>
<circle cx="606.23" cy="329.89" r="1.25" fill="#bdbdbd"/>
<circle cx="599.00" cy="339.68" r="1.25" fill="#bdbdbd"/>
<circle cx="596.11" cy="328.52" r="1.25" fill="#bdbdbd"/>
<circle cx="599.61" cy="337.52" r="1.25" fill="#bdbdbd"/>
<circle cx="607.81" cy="326.37" r="1.25" fill="#bdbdbd"/>
<circle cx="598.46" cy="326.67" r="1.25" fill="#bdbdbd"/>
<circle cx="597.22" cy="335.60" r="1.25" fill="#bdbdbd"/>
<circle cx="598.10" cy="326.74" r="1.25" fill="#bdbdbd"/>
<circle cx="596.77" cy="330.75" r="1.25" fill="#bdbdbd"/>
<circle cx="599.22" cy="326.25" r="1.25" fill="#bdbdbd"/>
<circle cx="599.92" cy="331.12" r="1.25" fill="#bdbdbd"/>
<circle cx="607.94" cy="324.88" r="1.25" fill="#bdbdbd"/>
<circle cx="602.78" cy="327.79" r="1.25" fill="#bdbdbd"/>
<circle cx="598.14" cy="328.47" r="1.25" fill="#bdbdbd"/>
<circle cx="605.59" cy="322.79" r="1.25" fill="#bdbdbd"/>
<circle cx="596.18" cy="336.33" r="1.25" fill="#bdbdbd"/>
<circle cx="598.24" cy="340.90" r="1.25" fill="#bdbdbd"/>
<circle cx="594.55" cy="331.22" r="1.25" fill="#bdbdbd"/>
<circle cx="604.43" cy="330.18" r="1.25" fill="#bdbdbd"/>
<circle cx="596.77" cy="329.58" r="1.25" fill="#bdbdbd"/>
<circle cx="602.99" cy="334.75" r="1.25" fill="#bdbdbd"/>
<circle cx="603.70" cy="323.64" r="1.25" fill="#bdbdbd"/>
<circle cx="606.54" cy="327.11" r="1.25" fill="#bdbdbd"/>
<circle cx="602.13" cy="328.70" r="1.25" fill="#bdbdbd"/>
<circle cx="604.88" cy="325.20" r="1.25" fill="#bdbdbd"/>
<circle cx="595.47" cy="338.97" r="1.25" fill="#bdbdbd"/>
<circle cx="602.31" cy="327.76" r="1.25" fill="#bdbdbd"/>
<circle cx="601.17" cy="325.85" r="1.25" fill="#bdbdbd"/>
<circle cx="600.64" cy="337.66" r="1.25" fill="#bdbdbd"/>
<circle cx="606.94" cy="330.23" r="1.25" fill="#bdbdbd"/>
<circle cx="590.20" cy="342.90" r="1.25" fill="#bdbdbd"/>
<circle cx="596.60" cy="342.90" r="1.25" fill="#bdbdbd"/>
<circle cx="611.10" cy="323.30" r="1.25" fill="#bdbdbd"/>
<circle cx="592.50" cy="333.00" r="1.25" fill="#bdbdbd"/>
<circle cx="598.50" cy="315.00" r="1.25" fill="#e41a1c"/>
<circle cx="596.80" cy="321.90" r="1.25" fill="#e41a1c"/>
<circle cx="632.20" cy="315.30" r="1.25" fill="#f6a21c"/>
<circle cx="609.10" cy="332.60" r="1.25" fill="#f6a21c"/>
<line x1="229.9" y1="379.6" x2="360.9" y2="248.9" stroke="#808080" stroke-width="1.15" stroke-dasharray="7.6 6.5" stroke-dashoffset="2.5"/>
<rect x="229.9" y="248.9" width="130.99999999999997" height="130.70000000000002" fill="none" stroke="#333" stroke-width="1.5"/>
<line x1="390.5" y1="379.3" x2="521.6" y2="248.6" stroke="#808080" stroke-width="1.15" stroke-dasharray="7.6 6.5" stroke-dashoffset="2.5"/>
<rect x="390.5" y="248.6" width="131.10000000000002" height="130.70000000000002" fill="none" stroke="#333" stroke-width="1.5"/>
<line x1="552.1" y1="379.6" x2="683.0" y2="248.9" stroke="#808080" stroke-width="1.15" stroke-dasharray="7.6 6.5" stroke-dashoffset="3.5"/>
<rect x="552.1" y="248.9" width="130.89999999999998" height="130.70000000000002" fill="none" stroke="#333" stroke-width="1.5"/>
<text x="189.6" y="418.3" font-size="12" font-weight="bold" fill="#000" stroke="#000" stroke-width="0.12">e</text>
<text x="254.10" y="545.80" font-size="9.6" fill="#2b2b2b" stroke="#2b2b2b" stroke-width="0.12" text-anchor="middle">−20</text>
<line x1="254.6" y1="537.4" x2="254.6" y2="539.0" stroke="#333" stroke-width="0.8"/>
<text x="287.00" y="545.80" font-size="9.6" fill="#2b2b2b" stroke="#2b2b2b" stroke-width="0.12" text-anchor="middle">−10</text>
<line x1="287.5" y1="537.4" x2="287.5" y2="539.0" stroke="#333" stroke-width="0.8"/>
<text x="319.90" y="545.80" font-size="9.6" fill="#2b2b2b" stroke="#2b2b2b" stroke-width="0.12" text-anchor="middle">0</text>
<line x1="320.4" y1="537.4" x2="320.4" y2="539.0" stroke="#333" stroke-width="0.8"/>
<text x="352.80" y="545.80" font-size="9.6" fill="#2b2b2b" stroke="#2b2b2b" stroke-width="0.12" text-anchor="middle">10</text>
<line x1="353.3" y1="537.4" x2="353.3" y2="539.0" stroke="#333" stroke-width="0.8"/>
<text x="231.00" y="420.85" font-size="9.6" fill="#2b2b2b" stroke="#2b2b2b" stroke-width="0.12" text-anchor="end">10</text>
<line x1="231.1" y1="416.75" x2="232.7" y2="416.75" stroke="#333" stroke-width="0.8"/>
<text x="231.00" y="453.75" font-size="9.6" fill="#2b2b2b" stroke="#2b2b2b" stroke-width="0.12" text-anchor="end">0</text>
<line x1="231.1" y1="449.65" x2="232.7" y2="449.65" stroke="#333" stroke-width="0.8"/>
<text x="231.00" y="486.65" font-size="9.6" fill="#2b2b2b" stroke="#2b2b2b" stroke-width="0.12" text-anchor="end">−10</text>
<line x1="231.1" y1="482.55" x2="232.7" y2="482.55" stroke="#333" stroke-width="0.8"/>
<text x="231.00" y="519.55" font-size="9.6" fill="#2b2b2b" stroke="#2b2b2b" stroke-width="0.12" text-anchor="end">−20</text>
<line x1="231.1" y1="515.45" x2="232.7" y2="515.45" stroke="#333" stroke-width="0.8"/>
<text x="295.75" y="555.80" font-size="9.4" fill="#2b2b2b" stroke="#2b2b2b" stroke-width="0.12" text-anchor="middle">WT PT/T (log2 FC)</text>
<text transform="translate(213.10,474.45) rotate(-90)" font-size="9.2" fill="#2b2b2b" stroke="#2b2b2b" stroke-width="0.12" text-anchor="middle"><tspan font-style="italic">hsfa</tspan>2 PT/T (log2 FC)</text>
<text x="414.70" y="547.40" font-size="9.6" fill="#2b2b2b" stroke="#2b2b2b" stroke-width="0.12" text-anchor="middle">−20</text>
<line x1="415.2" y1="539.0" x2="415.2" y2="540.6" stroke="#333" stroke-width="0.8"/>
<text x="447.70" y="547.40" font-size="9.6" fill="#2b2b2b" stroke="#2b2b2b" stroke-width="0.12" text-anchor="middle">−10</text>
<line x1="448.2" y1="539.0" x2="448.2" y2="540.6" stroke="#333" stroke-width="0.8"/>
<text x="480.70" y="547.40" font-size="9.6" fill="#2b2b2b" stroke="#2b2b2b" stroke-width="0.12" text-anchor="middle">0</text>
<line x1="481.2" y1="539.0" x2="481.2" y2="540.6" stroke="#333" stroke-width="0.8"/>
<text x="513.70" y="547.40" font-size="9.6" fill="#2b2b2b" stroke="#2b2b2b" stroke-width="0.12" text-anchor="middle">10</text>
<line x1="514.2" y1="539.0" x2="514.2" y2="540.6" stroke="#333" stroke-width="0.8"/>
<text x="391.40" y="422.50" font-size="9.6" fill="#2b2b2b" stroke="#2b2b2b" stroke-width="0.12" text-anchor="end">10</text>
<line x1="391.5" y1="418.4" x2="393.1" y2="418.4" stroke="#333" stroke-width="0.8"/>
<text x="391.40" y="455.40" font-size="9.6" fill="#2b2b2b" stroke="#2b2b2b" stroke-width="0.12" text-anchor="end">0</text>
<line x1="391.5" y1="451.3" x2="393.1" y2="451.3" stroke="#333" stroke-width="0.8"/>
<text x="391.40" y="488.30" font-size="9.6" fill="#2b2b2b" stroke="#2b2b2b" stroke-width="0.12" text-anchor="end">−10</text>
<line x1="391.5" y1="484.2" x2="393.1" y2="484.2" stroke="#333" stroke-width="0.8"/>
<text x="391.40" y="521.20" font-size="9.6" fill="#2b2b2b" stroke="#2b2b2b" stroke-width="0.12" text-anchor="end">−20</text>
<line x1="391.5" y1="517.1" x2="393.1" y2="517.1" stroke="#333" stroke-width="0.8"/>
<text x="456.30" y="557.40" font-size="9.4" fill="#2b2b2b" stroke="#2b2b2b" stroke-width="0.12" text-anchor="middle">WT PT/T (log2 FC)</text>
<text transform="translate(374.10,476.05) rotate(-90)" font-size="9.2" fill="#2b2b2b" stroke="#2b2b2b" stroke-width="0.12" text-anchor="middle"><tspan font-style="italic">hsfa</tspan>3 PT/T (log2 FC)</text>
<text x="575.70" y="548.80" font-size="9.6" fill="#2b2b2b" stroke="#2b2b2b" stroke-width="0.12" text-anchor="middle">−20</text>
<line x1="576.2" y1="540.4" x2="576.2" y2="542.0" stroke="#333" stroke-width="0.8"/>
<text x="608.70" y="548.80" font-size="9.6" fill="#2b2b2b" stroke="#2b2b2b" stroke-width="0.12" text-anchor="middle">−10</text>
<line x1="609.2" y1="540.4" x2="609.2" y2="542.0" stroke="#333" stroke-width="0.8"/>
<text x="641.60" y="548.80" font-size="9.6" fill="#2b2b2b" stroke="#2b2b2b" stroke-width="0.12" text-anchor="middle">0</text>
<line x1="642.1" y1="540.4" x2="642.1" y2="542.0" stroke="#333" stroke-width="0.8"/>
<text x="674.50" y="548.80" font-size="9.6" fill="#2b2b2b" stroke="#2b2b2b" stroke-width="0.12" text-anchor="middle">10</text>
<line x1="675.0" y1="540.4" x2="675.0" y2="542.0" stroke="#333" stroke-width="0.8"/>
<text x="552.50" y="423.70" font-size="9.6" fill="#2b2b2b" stroke="#2b2b2b" stroke-width="0.12" text-anchor="end">10</text>
<line x1="552.6" y1="419.6" x2="554.2" y2="419.6" stroke="#333" stroke-width="0.8"/>
<text x="552.50" y="456.60" font-size="9.6" fill="#2b2b2b" stroke="#2b2b2b" stroke-width="0.12" text-anchor="end">0</text>
<line x1="552.6" y1="452.5" x2="554.2" y2="452.5" stroke="#333" stroke-width="0.8"/>
<text x="552.50" y="489.50" font-size="9.6" fill="#2b2b2b" stroke="#2b2b2b" stroke-width="0.12" text-anchor="end">−10</text>
<line x1="552.6" y1="485.4" x2="554.2" y2="485.4" stroke="#333" stroke-width="0.8"/>
<text x="552.50" y="522.40" font-size="9.6" fill="#2b2b2b" stroke="#2b2b2b" stroke-width="0.12" text-anchor="end">−20</text>
<line x1="552.6" y1="518.3" x2="554.2" y2="518.3" stroke="#333" stroke-width="0.8"/>
<text x="617.25" y="558.80" font-size="9.4" fill="#2b2b2b" stroke="#2b2b2b" stroke-width="0.12" text-anchor="middle"><tspan font-style="italic">hsfa3</tspan> PT/T (log2 FC)</text>
<text transform="translate(534.10,477.35) rotate(-90)" font-size="9.2" fill="#2b2b2b" stroke="#2b2b2b" stroke-width="0.12" text-anchor="middle"><tspan font-style="italic">hsfa2</tspan> PT/T (log2 FC)</text>
<circle cx="311.65" cy="457.67" r="1.25" fill="#bdbdbd"/>
<circle cx="315.08" cy="456.01" r="1.25" fill="#bdbdbd"/>
<circle cx="311.22" cy="453.37" r="1.25" fill="#bdbdbd"/>
<circle cx="310.44" cy="451.64" r="1.25" fill="#bdbdbd"/>
<circle cx="311.60" cy="455.79" r="1.25" fill="#bdbdbd"/>
<circle cx="315.65" cy="451.64" r="1.25" fill="#bdbdbd"/>
<circle cx="315.92" cy="451.44" r="1.25" fill="#bdbdbd"/>
<circle cx="312.18" cy="451.64" r="1.25" fill="#bdbdbd"/>
<circle cx="313.03" cy="455.28" r="1.25" fill="#bdbdbd"/>
<circle cx="315.52" cy="450.46" r="1.25" fill="#bdbdbd"/>
<circle cx="310.67" cy="456.80" r="1.25" fill="#bdbdbd"/>
<circle cx="313.18" cy="452.47" r="1.25" fill="#bdbdbd"/>
<circle cx="312.19" cy="455.45" r="1.25" fill="#bdbdbd"/>
<circle cx="312.64" cy="453.87" r="1.25" fill="#bdbdbd"/>
<circle cx="312.71" cy="451.57" r="1.25" fill="#bdbdbd"/>
<circle cx="316.43" cy="451.64" r="1.25" fill="#bdbdbd"/>
<circle cx="313.32" cy="458.11" r="1.25" fill="#bdbdbd"/>
<circle cx="313.70" cy="451.21" r="1.25" fill="#bdbdbd"/>
<circle cx="309.91" cy="456.03" r="1.25" fill="#bdbdbd"/>
<circle cx="312.78" cy="454.80" r="1.25" fill="#bdbdbd"/>
<circle cx="310.49" cy="452.47" r="1.25" fill="#bdbdbd"/>
<circle cx="310.11" cy="454.65" r="1.25" fill="#bdbdbd"/>
<circle cx="311.01" cy="450.83" r="1.25" fill="#bdbdbd"/>
<circle cx="313.92" cy="450.06" r="1.25" fill="#bdbdbd"/>
<circle cx="317.41" cy="451.18" r="1.25" fill="#bdbdbd"/>
<circle cx="317.02" cy="451.83" r="1.25" fill="#bdbdbd"/>
<circle cx="313.13" cy="458.39" r="1.25" fill="#bdbdbd"/>
<circle cx="317.46" cy="451.42" r="1.25" fill="#bdbdbd"/>
<circle cx="311.22" cy="453.70" r="1.25" fill="#bdbdbd"/>
<circle cx="314.28" cy="453.53" r="1.25" fill="#bdbdbd"/>
<circle cx="302.08" cy="452.99" r="1.25" fill="#3db5e6"/>
<circle cx="313.90" cy="445.91" r="1.25" fill="#3db5e6"/>
<circle cx="315.23" cy="446.99" r="1.25" fill="#3db5e6"/>
<circle cx="311.29" cy="452.83" r="1.25" fill="#3db5e6"/>
<circle cx="311.75" cy="449.53" r="1.25" fill="#3db5e6"/>
<circle cx="308.33" cy="453.27" r="1.25" fill="#3db5e6"/>
<circle cx="308.42" cy="454.29" r="1.25" fill="#3db5e6"/>
<circle cx="308.77" cy="451.32" r="1.25" fill="#3db5e6"/>
<circle cx="301.79" cy="453.76" r="1.25" fill="#3db5e6"/>
<circle cx="303.52" cy="451.21" r="1.25" fill="#3db5e6"/>
<circle cx="311.90" cy="446.51" r="1.25" fill="#3db5e6"/>
<circle cx="317.09" cy="447.24" r="1.25" fill="#3db5e6"/>
<circle cx="304.60" cy="458.65" r="1.25" fill="#3db5e6"/>
<circle cx="316.51" cy="447.63" r="1.25" fill="#3db5e6"/>
<circle cx="313.88" cy="447.54" r="1.25" fill="#3db5e6"/>
<circle cx="316.19" cy="449.11" r="1.25" fill="#3db5e6"/>
<circle cx="314.86" cy="447.34" r="1.25" fill="#3db5e6"/>
<circle cx="304.06" cy="458.04" r="1.25" fill="#3db5e6"/>
<circle cx="304.18" cy="456.00" r="1.25" fill="#3db5e6"/>
<circle cx="303.30" cy="452.56" r="1.25" fill="#3db5e6"/>
<circle cx="311.90" cy="450.26" r="1.25" fill="#3db5e6"/>
<circle cx="311.79" cy="450.72" r="1.25" fill="#3db5e6"/>
<circle cx="314.56" cy="448.97" r="1.25" fill="#3db5e6"/>
<circle cx="307.34" cy="455.72" r="1.25" fill="#3db5e6"/>
<circle cx="313.67" cy="446.05" r="1.25" fill="#3db5e6"/>
<circle cx="314.93" cy="448.82" r="1.25" fill="#3db5e6"/>
<circle cx="311.07" cy="454.36" r="1.25" fill="#3db5e6"/>
<circle cx="311.56" cy="451.24" r="1.25" fill="#3db5e6"/>
<circle cx="309.86" cy="457.49" r="1.25" fill="#3db5e6"/>
<circle cx="312.18" cy="445.70" r="1.25" fill="#3db5e6"/>
<circle cx="305.10" cy="453.28" r="1.25" fill="#3db5e6"/>
<circle cx="311.69" cy="451.81" r="1.25" fill="#3db5e6"/>
<circle cx="303.62" cy="458.04" r="1.25" fill="#3db5e6"/>
<circle cx="302.98" cy="454.02" r="1.25" fill="#3db5e6"/>
<circle cx="301.59" cy="454.11" r="1.25" fill="#3db5e6"/>
<circle cx="310.68" cy="450.13" r="1.25" fill="#3db5e6"/>
<circle cx="312.05" cy="451.39" r="1.25" fill="#3db5e6"/>
<circle cx="305.50" cy="457.60" r="1.25" fill="#3db5e6"/>
<circle cx="302.13" cy="452.58" r="1.25" fill="#3db5e6"/>
<circle cx="302.36" cy="455.91" r="1.25" fill="#3db5e6"/>
<circle cx="301.60" cy="452.84" r="1.25" fill="#3db5e6"/>
<circle cx="316.93" cy="447.32" r="1.25" fill="#3db5e6"/>
<circle cx="304.69" cy="453.61" r="1.25" fill="#3db5e6"/>
<circle cx="309.76" cy="454.06" r="1.25" fill="#3db5e6"/>
<circle cx="314.82" cy="447.76" r="1.25" fill="#3db5e6"/>
<circle cx="302.20" cy="457.41" r="1.25" fill="#3db5e6"/>
<circle cx="301.50" cy="456.80" r="1.25" fill="#3db5e6"/>
<circle cx="313.70" cy="451.68" r="1.25" fill="#3db5e6"/>
<circle cx="313.64" cy="451.51" r="1.25" fill="#3db5e6"/>
<circle cx="306.94" cy="455.52" r="1.25" fill="#3db5e6"/>
<circle cx="313.14" cy="448.99" r="1.25" fill="#3db5e6"/>
<circle cx="310.54" cy="451.29" r="1.25" fill="#3db5e6"/>
<circle cx="314.41" cy="452.46" r="1.25" fill="#3db5e6"/>
<circle cx="305.78" cy="454.07" r="1.25" fill="#3db5e6"/>
<circle cx="317.32" cy="448.33" r="1.25" fill="#3db5e6"/>
<circle cx="313.71" cy="449.81" r="1.25" fill="#3db5e6"/>
<circle cx="315.92" cy="449.84" r="1.25" fill="#3db5e6"/>
<circle cx="305.35" cy="457.65" r="1.25" fill="#3db5e6"/>
<circle cx="311.81" cy="454.75" r="1.25" fill="#3db5e6"/>
<circle cx="309.15" cy="456.74" r="1.25" fill="#3db5e6"/>
<circle cx="308.61" cy="455.18" r="1.25" fill="#3db5e6"/>
<circle cx="304.90" cy="453.81" r="1.25" fill="#3db5e6"/>
<circle cx="302.68" cy="457.70" r="1.25" fill="#3db5e6"/>
<circle cx="303.16" cy="457.94" r="1.25" fill="#3db5e6"/>
<circle cx="312.83" cy="453.96" r="1.25" fill="#3db5e6"/>
<circle cx="302.49" cy="453.37" r="1.25" fill="#3db5e6"/>
<circle cx="307.40" cy="456.44" r="1.25" fill="#3db5e6"/>
<circle cx="302.49" cy="457.12" r="1.25" fill="#3db5e6"/>
<circle cx="311.82" cy="449.28" r="1.25" fill="#3db5e6"/>
<circle cx="313.90" cy="448.17" r="1.25" fill="#3db5e6"/>
<circle cx="306.06" cy="455.06" r="1.25" fill="#3db5e6"/>
<circle cx="308.60" cy="455.84" r="1.25" fill="#3db5e6"/>
<circle cx="307.12" cy="454.91" r="1.25" fill="#3db5e6"/>
<circle cx="315.63" cy="446.63" r="1.25" fill="#3db5e6"/>
<circle cx="314.93" cy="447.70" r="1.25" fill="#3db5e6"/>
<circle cx="309.51" cy="456.16" r="1.25" fill="#3db5e6"/>
<circle cx="304.44" cy="452.08" r="1.25" fill="#3db5e6"/>
<circle cx="307.13" cy="456.63" r="1.25" fill="#3db5e6"/>
<circle cx="305.70" cy="458.14" r="1.25" fill="#3db5e6"/>
<circle cx="312.94" cy="452.13" r="1.25" fill="#3db5e6"/>
<circle cx="303.21" cy="453.99" r="1.25" fill="#3db5e6"/>
<circle cx="302.73" cy="456.04" r="1.25" fill="#3db5e6"/>
<circle cx="311.76" cy="450.20" r="1.25" fill="#3db5e6"/>
<circle cx="316.09" cy="446.56" r="1.25" fill="#3db5e6"/>
<circle cx="316.06" cy="445.74" r="1.25" fill="#3db5e6"/>
<circle cx="307.66" cy="457.33" r="1.25" fill="#3db5e6"/>
<circle cx="305.25" cy="451.62" r="1.25" fill="#3db5e6"/>
<circle cx="310.17" cy="455.59" r="1.25" fill="#3db5e6"/>
<circle cx="313.82" cy="454.13" r="1.25" fill="#3db5e6"/>
<circle cx="303.96" cy="456.78" r="1.25" fill="#3db5e6"/>
<circle cx="246.00" cy="444.40" r="1.25" fill="#3db5e6"/>
<circle cx="300.60" cy="438.40" r="1.25" fill="#3db5e6"/>
<circle cx="293.40" cy="447.70" r="1.25" fill="#3db5e6"/>
<circle cx="295.20" cy="454.60" r="1.25" fill="#3db5e6"/>
<circle cx="304.00" cy="462.70" r="1.25" fill="#3db5e6"/>
<circle cx="308.00" cy="447.40" r="1.25" fill="#3db5e6"/>
<circle cx="301.60" cy="446.20" r="1.25" fill="#3db5e6"/>
<circle cx="303.50" cy="447.50" r="1.25" fill="#3db5e6"/>
<circle cx="304.50" cy="446.50" r="1.25" fill="#3db5e6"/>
<circle cx="302.00" cy="448.20" r="1.25" fill="#3db5e6"/>
<circle cx="477.70" cy="455.33" r="1.25" fill="#bdbdbd"/>
<circle cx="465.40" cy="465.47" r="1.25" fill="#bdbdbd"/>
<circle cx="475.31" cy="458.09" r="1.25" fill="#bdbdbd"/>
<circle cx="470.06" cy="463.07" r="1.25" fill="#bdbdbd"/>
<circle cx="474.69" cy="459.01" r="1.25" fill="#bdbdbd"/>
<circle cx="473.73" cy="458.49" r="1.25" fill="#bdbdbd"/>
<circle cx="470.15" cy="462.37" r="1.25" fill="#bdbdbd"/>
<circle cx="473.87" cy="458.35" r="1.25" fill="#bdbdbd"/>
<circle cx="468.71" cy="460.80" r="1.25" fill="#bdbdbd"/>
<circle cx="473.68" cy="455.50" r="1.25" fill="#bdbdbd"/>
<circle cx="473.56" cy="457.73" r="1.25" fill="#bdbdbd"/>
<circle cx="476.02" cy="457.44" r="1.25" fill="#bdbdbd"/>
<circle cx="466.33" cy="462.95" r="1.25" fill="#bdbdbd"/>
<circle cx="472.29" cy="462.04" r="1.25" fill="#bdbdbd"/>
<circle cx="471.84" cy="460.95" r="1.25" fill="#bdbdbd"/>
<circle cx="469.96" cy="462.68" r="1.25" fill="#bdbdbd"/>
<circle cx="465.72" cy="465.78" r="1.25" fill="#bdbdbd"/>
<circle cx="470.40" cy="461.78" r="1.25" fill="#bdbdbd"/>
<circle cx="467.32" cy="462.38" r="1.25" fill="#bdbdbd"/>
<circle cx="467.24" cy="463.22" r="1.25" fill="#bdbdbd"/>
<circle cx="471.17" cy="459.87" r="1.25" fill="#bdbdbd"/>
<circle cx="469.34" cy="460.94" r="1.25" fill="#bdbdbd"/>
<circle cx="476.89" cy="456.97" r="1.25" fill="#bdbdbd"/>
<circle cx="477.16" cy="455.74" r="1.25" fill="#bdbdbd"/>
<circle cx="470.53" cy="460.92" r="1.25" fill="#bdbdbd"/>
<circle cx="474.15" cy="457.07" r="1.25" fill="#bdbdbd"/>
<circle cx="466.00" cy="463.64" r="1.25" fill="#bdbdbd"/>
<circle cx="474.10" cy="455.50" r="1.25" fill="#bdbdbd"/>
<circle cx="467.47" cy="462.87" r="1.25" fill="#bdbdbd"/>
<circle cx="466.44" cy="464.48" r="1.25" fill="#bdbdbd"/>
<circle cx="464.27" cy="458.20" r="1.25" fill="#3db5e6"/>
<circle cx="470.14" cy="458.89" r="1.25" fill="#3db5e6"/>
<circle cx="468.52" cy="460.86" r="1.25" fill="#3db5e6"/>
<circle cx="470.57" cy="452.20" r="1.25" fill="#3db5e6"/>
<circle cx="469.02" cy="450.52" r="1.25" fill="#3db5e6"/>
<circle cx="469.45" cy="455.47" r="1.25" fill="#3db5e6"/>
<circle cx="460.92" cy="460.27" r="1.25" fill="#3db5e6"/>
<circle cx="469.04" cy="456.38" r="1.25" fill="#3db5e6"/>
<circle cx="467.40" cy="454.36" r="1.25" fill="#3db5e6"/>
<circle cx="477.71" cy="449.56" r="1.25" fill="#3db5e6"/>
<circle cx="472.01" cy="457.41" r="1.25" fill="#3db5e6"/>
<circle cx="461.30" cy="457.04" r="1.25" fill="#3db5e6"/>
<circle cx="469.79" cy="455.29" r="1.25" fill="#3db5e6"/>
<circle cx="466.76" cy="460.56" r="1.25" fill="#3db5e6"/>
<circle cx="467.24" cy="455.14" r="1.25" fill="#3db5e6"/>
<circle cx="470.05" cy="459.29" r="1.25" fill="#3db5e6"/>
<circle cx="464.51" cy="454.59" r="1.25" fill="#3db5e6"/>
<circle cx="468.23" cy="456.26" r="1.25" fill="#3db5e6"/>
<circle cx="475.35" cy="452.60" r="1.25" fill="#3db5e6"/>
<circle cx="469.67" cy="452.30" r="1.25" fill="#3db5e6"/>
<circle cx="466.62" cy="452.94" r="1.25" fill="#3db5e6"/>
<circle cx="466.07" cy="456.71" r="1.25" fill="#3db5e6"/>
<circle cx="461.50" cy="458.62" r="1.25" fill="#3db5e6"/>
<circle cx="471.65" cy="457.28" r="1.25" fill="#3db5e6"/>
<circle cx="472.79" cy="451.48" r="1.25" fill="#3db5e6"/>
<circle cx="472.54" cy="454.91" r="1.25" fill="#3db5e6"/>
<circle cx="474.22" cy="449.92" r="1.25" fill="#3db5e6"/>
<circle cx="472.34" cy="453.66" r="1.25" fill="#3db5e6"/>
<circle cx="470.69" cy="452.11" r="1.25" fill="#3db5e6"/>
<circle cx="466.12" cy="454.40" r="1.25" fill="#3db5e6"/>
<circle cx="466.41" cy="454.53" r="1.25" fill="#3db5e6"/>
<circle cx="461.76" cy="456.45" r="1.25" fill="#3db5e6"/>
<circle cx="472.14" cy="451.47" r="1.25" fill="#3db5e6"/>
<circle cx="460.88" cy="458.07" r="1.25" fill="#3db5e6"/>
<circle cx="462.35" cy="460.67" r="1.25" fill="#3db5e6"/>
<circle cx="473.46" cy="451.89" r="1.25" fill="#3db5e6"/>
<circle cx="473.71" cy="451.12" r="1.25" fill="#3db5e6"/>
<circle cx="461.68" cy="459.34" r="1.25" fill="#3db5e6"/>
<circle cx="473.64" cy="449.68" r="1.25" fill="#3db5e6"/>
<circle cx="465.27" cy="462.00" r="1.25" fill="#3db5e6"/>
<circle cx="461.06" cy="457.61" r="1.25" fill="#3db5e6"/>
<circle cx="475.19" cy="449.62" r="1.25" fill="#3db5e6"/>
<circle cx="466.27" cy="458.71" r="1.25" fill="#3db5e6"/>
<circle cx="463.72" cy="460.55" r="1.25" fill="#3db5e6"/>
<circle cx="467.27" cy="456.55" r="1.25" fill="#3db5e6"/>
<circle cx="468.52" cy="457.98" r="1.25" fill="#3db5e6"/>
<circle cx="463.35" cy="459.66" r="1.25" fill="#3db5e6"/>
<circle cx="467.19" cy="457.53" r="1.25" fill="#3db5e6"/>
<circle cx="471.88" cy="454.35" r="1.25" fill="#3db5e6"/>
<circle cx="467.59" cy="459.51" r="1.25" fill="#3db5e6"/>
<circle cx="470.78" cy="452.59" r="1.25" fill="#3db5e6"/>
<circle cx="466.64" cy="456.98" r="1.25" fill="#3db5e6"/>
<circle cx="471.38" cy="452.82" r="1.25" fill="#3db5e6"/>
<circle cx="468.34" cy="460.93" r="1.25" fill="#3db5e6"/>
<circle cx="467.43" cy="458.09" r="1.25" fill="#3db5e6"/>
<circle cx="475.01" cy="452.47" r="1.25" fill="#3db5e6"/>
<circle cx="468.24" cy="456.71" r="1.25" fill="#3db5e6"/>
<circle cx="461.54" cy="460.17" r="1.25" fill="#3db5e6"/>
<circle cx="470.87" cy="452.33" r="1.25" fill="#3db5e6"/>
<circle cx="464.33" cy="459.00" r="1.25" fill="#3db5e6"/>
<circle cx="477.20" cy="451.78" r="1.25" fill="#3db5e6"/>
<circle cx="471.48" cy="457.99" r="1.25" fill="#3db5e6"/>
<circle cx="468.99" cy="451.39" r="1.25" fill="#3db5e6"/>
<circle cx="465.28" cy="459.02" r="1.25" fill="#3db5e6"/>
<circle cx="462.34" cy="459.79" r="1.25" fill="#3db5e6"/>
<circle cx="474.39" cy="451.76" r="1.25" fill="#3db5e6"/>
<circle cx="469.19" cy="456.75" r="1.25" fill="#3db5e6"/>
<circle cx="464.13" cy="451.19" r="1.25" fill="#3db5e6"/>
<circle cx="463.98" cy="458.31" r="1.25" fill="#3db5e6"/>
<circle cx="467.19" cy="456.40" r="1.25" fill="#3db5e6"/>
<circle cx="467.88" cy="455.74" r="1.25" fill="#3db5e6"/>
<circle cx="462.67" cy="457.36" r="1.25" fill="#3db5e6"/>
<circle cx="474.66" cy="450.69" r="1.25" fill="#3db5e6"/>
<circle cx="471.31" cy="453.33" r="1.25" fill="#3db5e6"/>
<circle cx="470.78" cy="452.16" r="1.25" fill="#3db5e6"/>
<circle cx="474.51" cy="454.46" r="1.25" fill="#3db5e6"/>
<circle cx="464.34" cy="451.03" r="1.25" fill="#3db5e6"/>
<circle cx="476.81" cy="449.40" r="1.25" fill="#3db5e6"/>
<circle cx="471.33" cy="454.06" r="1.25" fill="#3db5e6"/>
<circle cx="462.91" cy="461.93" r="1.25" fill="#3db5e6"/>
<circle cx="465.33" cy="456.40" r="1.25" fill="#3db5e6"/>
<circle cx="472.59" cy="454.00" r="1.25" fill="#3db5e6"/>
<circle cx="465.30" cy="453.43" r="1.25" fill="#3db5e6"/>
<circle cx="475.54" cy="449.16" r="1.25" fill="#3db5e6"/>
<circle cx="472.71" cy="452.68" r="1.25" fill="#3db5e6"/>
<circle cx="462.66" cy="453.03" r="1.25" fill="#3db5e6"/>
<circle cx="469.27" cy="450.86" r="1.25" fill="#3db5e6"/>
<circle cx="473.42" cy="451.23" r="1.25" fill="#3db5e6"/>
<circle cx="464.68" cy="461.58" r="1.25" fill="#3db5e6"/>
<circle cx="463.26" cy="454.76" r="1.25" fill="#3db5e6"/>
<circle cx="453.80" cy="452.30" r="1.25" fill="#3db5e6"/>
<circle cx="455.90" cy="453.80" r="1.25" fill="#3db5e6"/>
<circle cx="470.20" cy="446.80" r="1.25" fill="#3db5e6"/>
<circle cx="472.50" cy="445.30" r="1.25" fill="#3db5e6"/>
<circle cx="462.00" cy="461.90" r="1.25" fill="#3db5e6"/>
<circle cx="406.70" cy="508.00" r="1.25" fill="#3db5e6"/>
<circle cx="473.10" cy="463.10" r="1.25" fill="#1c4f8f"/>
<circle cx="474.90" cy="461.10" r="1.25" fill="#1c4f8f"/>
<circle cx="632.61" cy="461.40" r="1.25" fill="#bdbdbd"/>
<circle cx="640.32" cy="456.15" r="1.25" fill="#bdbdbd"/>
<circle cx="633.21" cy="460.59" r="1.25" fill="#bdbdbd"/>
<circle cx="641.89" cy="453.08" r="1.25" fill="#bdbdbd"/>
<circle cx="632.83" cy="462.10" r="1.25" fill="#bdbdbd"/>
<circle cx="632.11" cy="460.93" r="1.25" fill="#bdbdbd"/>
<circle cx="642.60" cy="449.20" r="1.25" fill="#bdbdbd"/>
<circle cx="640.48" cy="452.51" r="1.25" fill="#bdbdbd"/>
<circle cx="641.49" cy="453.17" r="1.25" fill="#bdbdbd"/>
<circle cx="642.80" cy="451.46" r="1.25" fill="#bdbdbd"/>
<circle cx="633.65" cy="459.19" r="1.25" fill="#bdbdbd"/>
<circle cx="639.01" cy="455.34" r="1.25" fill="#bdbdbd"/>
<circle cx="640.56" cy="454.11" r="1.25" fill="#bdbdbd"/>
<circle cx="641.53" cy="453.09" r="1.25" fill="#bdbdbd"/>
<circle cx="642.30" cy="452.13" r="1.25" fill="#bdbdbd"/>
<circle cx="633.73" cy="460.04" r="1.25" fill="#bdbdbd"/>
<circle cx="636.04" cy="456.73" r="1.25" fill="#bdbdbd"/>
<circle cx="636.97" cy="455.62" r="1.25" fill="#bdbdbd"/>
<circle cx="635.41" cy="458.36" r="1.25" fill="#bdbdbd"/>
<circle cx="636.17" cy="458.92" r="1.25" fill="#bdbdbd"/>
<circle cx="632.17" cy="460.62" r="1.25" fill="#bdbdbd"/>
<circle cx="637.82" cy="455.83" r="1.25" fill="#bdbdbd"/>
<circle cx="643.49" cy="451.53" r="1.25" fill="#bdbdbd"/>
<circle cx="634.53" cy="459.84" r="1.25" fill="#bdbdbd"/>
<circle cx="638.61" cy="455.72" r="1.25" fill="#bdbdbd"/>
<circle cx="637.57" cy="455.41" r="1.25" fill="#bdbdbd"/>
<circle cx="641.11" cy="453.14" r="1.25" fill="#bdbdbd"/>
<circle cx="639.31" cy="453.50" r="1.25" fill="#bdbdbd"/>
<circle cx="642.46" cy="448.88" r="1.25" fill="#bdbdbd"/>
<circle cx="639.88" cy="452.23" r="1.25" fill="#bdbdbd"/>
<circle cx="637.90" cy="454.47" r="1.25" fill="#bdbdbd"/>
<circle cx="643.29" cy="452.43" r="1.25" fill="#bdbdbd"/>
<circle cx="635.22" cy="457.47" r="1.25" fill="#bdbdbd"/>
<circle cx="638.53" cy="457.51" r="1.25" fill="#bdbdbd"/>
<circle cx="637.16" cy="456.07" r="1.25" fill="#bdbdbd"/>
<circle cx="639.06" cy="454.97" r="1.25" fill="#bdbdbd"/>
<circle cx="636.19" cy="456.60" r="1.25" fill="#bdbdbd"/>
<circle cx="642.17" cy="451.74" r="1.25" fill="#bdbdbd"/>
<circle cx="638.36" cy="455.28" r="1.25" fill="#bdbdbd"/>
<circle cx="635.09" cy="459.21" r="1.25" fill="#bdbdbd"/>
<circle cx="632.53" cy="457.11" r="1.25" fill="#3db5e6"/>
<circle cx="640.41" cy="450.04" r="1.25" fill="#3db5e6"/>
<circle cx="635.61" cy="453.79" r="1.25" fill="#3db5e6"/>
<circle cx="636.10" cy="453.30" r="1.25" fill="#3db5e6"/>
<circle cx="633.93" cy="454.31" r="1.25" fill="#3db5e6"/>
<circle cx="637.72" cy="452.18" r="1.25" fill="#3db5e6"/>
<circle cx="633.07" cy="455.56" r="1.25" fill="#3db5e6"/>
<circle cx="632.98" cy="452.55" r="1.25" fill="#3db5e6"/>
<circle cx="634.59" cy="454.13" r="1.25" fill="#3db5e6"/>
<circle cx="629.63" cy="455.82" r="1.25" fill="#3db5e6"/>
<circle cx="635.51" cy="454.82" r="1.25" fill="#3db5e6"/>
<circle cx="634.84" cy="455.07" r="1.25" fill="#3db5e6"/>
<circle cx="637.19" cy="453.42" r="1.25" fill="#3db5e6"/>
<circle cx="632.61" cy="456.07" r="1.25" fill="#3db5e6"/>
<circle cx="633.21" cy="455.64" r="1.25" fill="#3db5e6"/>
<circle cx="633.76" cy="456.46" r="1.25" fill="#3db5e6"/>
<circle cx="634.76" cy="454.91" r="1.25" fill="#3db5e6"/>
<circle cx="631.89" cy="457.31" r="1.25" fill="#3db5e6"/>
<circle cx="636.95" cy="450.94" r="1.25" fill="#3db5e6"/>
<circle cx="634.57" cy="455.54" r="1.25" fill="#3db5e6"/>
<circle cx="631.32" cy="456.74" r="1.25" fill="#3db5e6"/>
<circle cx="635.64" cy="453.70" r="1.25" fill="#3db5e6"/>
<circle cx="638.23" cy="449.78" r="1.25" fill="#3db5e6"/>
<circle cx="638.39" cy="452.56" r="1.25" fill="#3db5e6"/>
<circle cx="637.62" cy="452.96" r="1.25" fill="#3db5e6"/>
<circle cx="628.99" cy="460.06" r="1.25" fill="#3db5e6"/>
<circle cx="635.75" cy="452.90" r="1.25" fill="#3db5e6"/>
<circle cx="633.90" cy="453.37" r="1.25" fill="#3db5e6"/>
<circle cx="633.75" cy="456.40" r="1.25" fill="#3db5e6"/>
<circle cx="639.02" cy="452.32" r="1.25" fill="#3db5e6"/>
<circle cx="631.00" cy="453.43" r="1.25" fill="#3db5e6"/>
<circle cx="637.66" cy="451.26" r="1.25" fill="#3db5e6"/>
<circle cx="635.07" cy="453.37" r="1.25" fill="#3db5e6"/>
<circle cx="629.33" cy="459.05" r="1.25" fill="#3db5e6"/>
<circle cx="636.90" cy="452.80" r="1.25" fill="#3db5e6"/>
<circle cx="629.78" cy="457.51" r="1.25" fill="#3db5e6"/>
<circle cx="639.29" cy="450.05" r="1.25" fill="#3db5e6"/>
<circle cx="638.87" cy="450.45" r="1.25" fill="#3db5e6"/>
<circle cx="632.54" cy="457.72" r="1.25" fill="#3db5e6"/>
<circle cx="634.67" cy="451.33" r="1.25" fill="#3db5e6"/>
<circle cx="637.49" cy="451.76" r="1.25" fill="#3db5e6"/>
<circle cx="636.11" cy="451.14" r="1.25" fill="#3db5e6"/>
<circle cx="639.81" cy="449.98" r="1.25" fill="#3db5e6"/>
<circle cx="634.78" cy="455.40" r="1.25" fill="#3db5e6"/>
<circle cx="631.39" cy="458.36" r="1.25" fill="#3db5e6"/>
<circle cx="632.99" cy="456.88" r="1.25" fill="#3db5e6"/>
<circle cx="635.55" cy="452.41" r="1.25" fill="#3db5e6"/>
<circle cx="630.08" cy="459.38" r="1.25" fill="#3db5e6"/>
<circle cx="632.09" cy="456.95" r="1.25" fill="#3db5e6"/>
<circle cx="632.66" cy="454.85" r="1.25" fill="#3db5e6"/>
<circle cx="629.37" cy="457.65" r="1.25" fill="#3db5e6"/>
<circle cx="631.55" cy="453.60" r="1.25" fill="#3db5e6"/>
<circle cx="636.89" cy="452.93" r="1.25" fill="#3db5e6"/>
<circle cx="633.38" cy="456.90" r="1.25" fill="#3db5e6"/>
<circle cx="637.39" cy="451.60" r="1.25" fill="#3db5e6"/>
<circle cx="636.40" cy="450.74" r="1.25" fill="#3db5e6"/>
<circle cx="629.21" cy="460.17" r="1.25" fill="#3db5e6"/>
<circle cx="631.84" cy="453.31" r="1.25" fill="#3db5e6"/>
<circle cx="636.54" cy="450.72" r="1.25" fill="#3db5e6"/>
<circle cx="637.63" cy="451.69" r="1.25" fill="#3db5e6"/>
<circle cx="635.80" cy="441.10" r="1.25" fill="#3db5e6"/>
<circle cx="630.80" cy="449.00" r="1.25" fill="#3db5e6"/>
<circle cx="633.70" cy="448.70" r="1.25" fill="#3db5e6"/>
<circle cx="585.20" cy="447.20" r="1.25" fill="#3db5e6"/>
<circle cx="628.00" cy="461.00" r="1.25" fill="#3db5e6"/>
<circle cx="629.50" cy="459.80" r="1.25" fill="#3db5e6"/>
<circle cx="643.40" cy="455.40" r="1.25" fill="#1c4f8f"/>
<circle cx="642.20" cy="457.20" r="1.25" fill="#1c4f8f"/>
<circle cx="644.50" cy="455.00" r="1.25" fill="#1c4f8f"/>
<circle cx="648.00" cy="455.40" r="1.25" fill="#1c4f8f"/>
<circle cx="646.30" cy="458.10" r="1.25" fill="#1c4f8f"/>
<circle cx="640.40" cy="460.40" r="1.25" fill="#1c4f8f"/>
<circle cx="638.10" cy="461.30" r="1.25" fill="#1c4f8f"/>
<circle cx="638.10" cy="462.50" r="1.25" fill="#1c4f8f"/>
<circle cx="638.10" cy="463.60" r="1.25" fill="#1c4f8f"/>
<circle cx="637.80" cy="465.70" r="1.25" fill="#1c4f8f"/>
<circle cx="631.40" cy="467.70" r="1.25" fill="#1c4f8f"/>
<line x1="232.7" y1="537.4" x2="358.8" y2="411.5" stroke="#808080" stroke-width="1.15" stroke-dasharray="7.6 6.5" stroke-dashoffset="9.4"/>
<rect x="232.7" y="411.5" width="126.10000000000002" height="125.89999999999998" fill="none" stroke="#3a3a3a" stroke-width="1.3"/>
<line x1="393.1" y1="539.0" x2="519.5" y2="413.1" stroke="#808080" stroke-width="1.15" stroke-dasharray="7.6 6.5" stroke-dashoffset="9.4"/>
<rect x="393.1" y="413.1" width="126.39999999999998" height="125.89999999999998" fill="none" stroke="#3a3a3a" stroke-width="1.3"/>
<line x1="554.2" y1="540.4" x2="680.3" y2="414.3" stroke="#808080" stroke-width="1.15" stroke-dasharray="7.6 6.5" stroke-dashoffset="10.4"/>
<rect x="554.2" y="414.3" width="126.09999999999991" height="126.09999999999997" fill="none" stroke="#3a3a3a" stroke-width="1.3"/>
<text x="367.2" y="616.4" font-size="12" font-weight="bold" fill="#000" stroke="#000" stroke-width="0.12">h</text>
<line x1="402.9" y1="650.30" x2="680.8" y2="650.30" stroke="#e6e6e6" stroke-width="1.2"/>
<line x1="402.9" y1="721.45" x2="680.8" y2="721.45" stroke="#dcdcdc" stroke-width="1.5"/>
<line x1="402.9" y1="792.60" x2="680.8" y2="792.60" stroke="#ececec" stroke-width="1.2"/>
<line x1="561.8" y1="640.1" x2="561.8" y2="802.3" stroke="#8a8a8a" stroke-width="1.1"/>
<line x1="399.2" y1="792.60" x2="402.9" y2="792.60" stroke="#333" stroke-width="0.8"/>
<text x="395.20" y="795.00" font-size="6.8" fill="#333" stroke="#333" stroke-width="0.12" text-anchor="end">0.0</text>
<line x1="399.2" y1="764.14" x2="402.9" y2="764.14" stroke="#333" stroke-width="0.8"/>
<text x="395.20" y="766.54" font-size="6.8" fill="#333" stroke="#333" stroke-width="0.12" text-anchor="end">0.2</text>
<line x1="399.2" y1="735.68" x2="402.9" y2="735.68" stroke="#333" stroke-width="0.8"/>
<text x="395.20" y="738.08" font-size="6.8" fill="#333" stroke="#333" stroke-width="0.12" text-anchor="end">0.4</text>
<line x1="399.2" y1="707.22" x2="402.9" y2="707.22" stroke="#333" stroke-width="0.8"/>
<text x="395.20" y="709.62" font-size="6.8" fill="#333" stroke="#333" stroke-width="0.12" text-anchor="end">0.6</text>
<line x1="399.2" y1="678.76" x2="402.9" y2="678.76" stroke="#333" stroke-width="0.8"/>
<text x="395.20" y="681.16" font-size="6.8" fill="#333" stroke="#333" stroke-width="0.12" text-anchor="end">0.8</text>
<line x1="399.2" y1="650.30" x2="402.9" y2="650.30" stroke="#333" stroke-width="0.8"/>
<text x="395.20" y="652.70" font-size="6.8" fill="#333" stroke="#333" stroke-width="0.12" text-anchor="end">1.0</text>
<line x1="453.40" y1="802.3" x2="453.40" y2="805.9" stroke="#333" stroke-width="0.8"/>
<text x="453.40" y="815.40" font-size="6.8" fill="#333" stroke="#333" stroke-width="0.12" text-anchor="middle">−4</text>
<line x1="507.70" y1="802.3" x2="507.70" y2="805.9" stroke="#333" stroke-width="0.8"/>
<text x="507.70" y="815.40" font-size="6.8" fill="#333" stroke="#333" stroke-width="0.12" text-anchor="middle">−2</text>
<line x1="562.00" y1="802.3" x2="562.00" y2="805.9" stroke="#333" stroke-width="0.8"/>
<text x="562.00" y="815.40" font-size="6.8" fill="#333" stroke="#333" stroke-width="0.12" text-anchor="middle">0</text>
<line x1="616.30" y1="802.3" x2="616.30" y2="805.9" stroke="#333" stroke-width="0.8"/>
<text x="616.30" y="815.40" font-size="6.8" fill="#333" stroke="#333" stroke-width="0.12" text-anchor="middle">2</text>
<line x1="670.60" y1="802.3" x2="670.60" y2="805.9" stroke="#333" stroke-width="0.8"/>
<text x="670.60" y="815.40" font-size="6.8" fill="#333" stroke="#333" stroke-width="0.12" text-anchor="middle">4</text>
<text x="552.50" y="826.20" font-size="8.0" fill="#333" stroke="#333" stroke-width="0.12" text-anchor="middle">log2FC(PT/T)</text>
<text transform="translate(377.9,721.2) rotate(-90)" font-size="8" fill="#333" stroke="#333" stroke-width="0.12" text-anchor="middle">Empirical CDF</text>
<polyline points="419.6,790.6 457.5,790.6 457.5,788.4 505.5,788.4 517.8,788.4 517.8,786.5 521.6,786.5 521.6,784 527.3,784 527.3,781.8 533,781.8 533,779.9 536.8,779.9 536.8,778 539.6,778 539.6,776.1 543.4,771.3 547.2,768.5 550.1,763.7 552,758 553.9,755.2 556.2,751.4 557.7,747.6 559.2,742.8 560.8,740.2 562.7,732.6 564,722.4 565.9,714.8 569,708.5 570.9,694.5 572.8,689.5 575.4,686.9 576.6,676.8 577.3,673 579.2,670.4 581.7,664.1 584.2,660.9 587.4,658.4 589.3,656.5 600.7,656.5 601.4,654 602.6,652.3 609,652.3 609,651.7" fill="none" stroke="#f0a22e" stroke-width="1.5"/>
<polyline points="453,790.6 505.2,790.6 505.2,788.2 525.4,788.2 525.4,784 536.8,784 538.7,779.9 540.6,776.1 543.4,770.4 549.1,770.4 550.1,766.6 552.9,761.8 554.8,758 556.7,753.3 558.6,746.6 559.6,740 560.1,728.8 562,718.6 563.3,709.7 565.2,702.1 567.8,695.8 569,688.2 570.3,681.8 572.2,678 574.1,671.1 576.6,667.3 578.5,662.8 580.4,660.3 583.6,658.4 586.8,655.9 588,654 590,652.3 603.9,652.3 603.9,650.1" fill="none" stroke="#1e9a72" stroke-width="1.5"/>
<polyline points="589.5,790.6 590.7,781.9 593.2,762 595.7,742.2 597.6,728.8 599.5,722.4 600.7,716.1 602,707.2 604.5,698.3 607.5,690 608.3,688.2 609.3,678.1 611.3,678.1 611.3,674.4 615.5,674.4 615.5,665.7 617,665.7 617,663.2 621.7,663.2 621.7,659 624.2,659 624.2,657 637.9,657 637.9,655 651.5,655 651.5,652.8 657.7,652.8 657.7,651.3 663.9,651.3" fill="none" stroke="#2475c2" stroke-width="1.6"/>
<rect x="402.9" y="640.1" width="277.90" height="162.20" fill="none" stroke="#111" stroke-width="1.8"/>
<text x="617.50" y="698.30" font-size="9.2" fill="#1e9a72" text-anchor="middle" class="ns">b</text>
<text x="617.50" y="715.70" font-size="9.2" fill="#f0a22e" text-anchor="middle" class="ns">b</text>
<text x="617.50" y="732.40" font-size="9.2" fill="#2475c2" text-anchor="middle" class="ns">a</text>
<text x="407.9" y="620" font-size="9.6" fill="#231f20" stroke="#231f20" stroke-width="0.12" font-style="italic">A. thaliana</text>
<line x1="457.3" y1="616.1" x2="480.9" y2="616.1" stroke="#2475c2" stroke-width="1.8"/>
<text x="503.5" y="614.5" font-size="9.6" fill="#231f20" stroke="#231f20" stroke-width="0.12" font-style="italic">H. vulgare</text>
<text x="503.5" y="625.7" font-size="9.6" fill="#231f20" stroke="#231f20" stroke-width="0.12">(Exp1)</text>
<line x1="553" y1="616.1" x2="576.3" y2="616.1" stroke="#f0a22e" stroke-width="1.8"/>
<text x="599.4" y="614.5" font-size="9.6" fill="#231f20" stroke="#231f20" stroke-width="0.12" font-style="italic">H. vulgare</text>
<text x="599.4" y="625.7" font-size="9.6" fill="#231f20" stroke="#231f20" stroke-width="0.12">(Exp2)</text>
<line x1="649" y1="616.1" x2="672.1" y2="616.1" stroke="#1e9a72" stroke-width="1.8"/>
</svg>
</body></html>
